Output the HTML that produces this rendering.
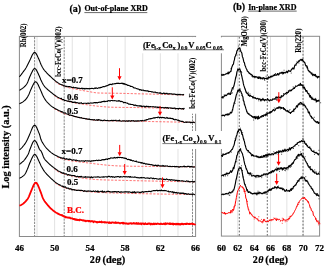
<!DOCTYPE html><html><head><meta charset="utf-8"><style>html,body{margin:0;padding:0;background:#fff;overflow:hidden;}svg{display:block;will-change:transform;}text{font-family:"Liberation Serif",serif;font-weight:bold;stroke:currentColor;stroke-width:0.22px;}</style></head><body><svg width="325" height="267" viewBox="0 0 325 267"><rect width="325" height="267" fill="#fff"/><text x="69.5" y="11.6" font-size="10">(a)</text><text x="84.4" y="11.0" font-size="8">Out-of-plane XRD</text><line x1="84.4" y1="12.6" x2="147.3" y2="12.6" stroke="#000" stroke-width="0.6"/><text x="232.9" y="9.8" font-size="10">(b)</text><text x="248.2" y="10.1" font-size="8">In-plane XRD</text><line x1="248.2" y1="11.1" x2="296.7" y2="11.1" stroke="#000" stroke-width="0.6"/><line x1="37.02" y1="36.4" x2="37.02" y2="236.5" stroke="#e2e2e2" stroke-width="1"/><line x1="54.64" y1="36.4" x2="54.64" y2="236.5" stroke="#e2e2e2" stroke-width="1"/><line x1="72.26" y1="36.4" x2="72.26" y2="236.5" stroke="#e2e2e2" stroke-width="1"/><line x1="89.88" y1="36.4" x2="89.88" y2="236.5" stroke="#e2e2e2" stroke-width="1"/><line x1="107.50" y1="36.4" x2="107.50" y2="236.5" stroke="#e2e2e2" stroke-width="1"/><line x1="125.12" y1="36.4" x2="125.12" y2="236.5" stroke="#e2e2e2" stroke-width="1"/><line x1="142.74" y1="36.4" x2="142.74" y2="236.5" stroke="#e2e2e2" stroke-width="1"/><line x1="160.36" y1="36.4" x2="160.36" y2="236.5" stroke="#e2e2e2" stroke-width="1"/><line x1="177.98" y1="36.4" x2="177.98" y2="236.5" stroke="#e2e2e2" stroke-width="1"/><line x1="34.6" y1="36.9" x2="34.6" y2="236.5" stroke="#7a7a7a" stroke-width="0.9" stroke-dasharray="2.3,1.0"/><line x1="64.2" y1="36.9" x2="64.2" y2="236.5" stroke="#7a7a7a" stroke-width="0.9" stroke-dasharray="2.3,1.0"/><line x1="192.5" y1="36.9" x2="192.5" y2="236.5" stroke="#7a7a7a" stroke-width="0.9" stroke-dasharray="2.3,1.0"/><line x1="237.77" y1="36.3" x2="237.77" y2="236.1" stroke="#e2e2e2" stroke-width="1"/><line x1="254.13" y1="36.3" x2="254.13" y2="236.1" stroke="#e2e2e2" stroke-width="1"/><line x1="270.50" y1="36.3" x2="270.50" y2="236.1" stroke="#e2e2e2" stroke-width="1"/><line x1="286.87" y1="36.3" x2="286.87" y2="236.1" stroke="#e2e2e2" stroke-width="1"/><line x1="303.23" y1="36.3" x2="303.23" y2="236.1" stroke="#e2e2e2" stroke-width="1"/><line x1="239.3" y1="36.8" x2="239.3" y2="236.1" stroke="#555" stroke-width="0.9" stroke-dasharray="1.8,1.6"/><line x1="267.3" y1="36.8" x2="267.3" y2="236.1" stroke="#555" stroke-width="0.9" stroke-dasharray="1.8,1.6"/><line x1="303.0" y1="36.8" x2="303.0" y2="236.1" stroke="#555" stroke-width="0.9" stroke-dasharray="1.8,1.6"/><rect x="19.4" y="36.4" width="176.20" height="200.10" fill="none" stroke="#8a8a8a" stroke-width="1"/><rect x="221.4" y="36.3" width="98.20" height="199.80" fill="none" stroke="#8a8a8a" stroke-width="1"/><path d="M55.00,81.40L55.50,81.84L56.00,82.25L56.50,82.64L57.00,83.00L57.50,83.34L58.00,83.65L58.50,83.94L59.00,84.20L59.50,84.43L60.00,84.63L60.50,84.82L61.00,85.00L61.50,85.19L62.00,85.38L62.50,85.56L63.00,85.75L63.50,85.94L64.00,86.12L64.50,86.31L65.00,86.48L65.50,86.66L66.00,86.83L66.50,87.00L67.00,87.16L67.50,87.32L68.00,87.47L68.50,87.61L69.00,87.75L69.50,87.88L70.00,88.00L70.50,88.12L71.00,88.23L71.50,88.34L72.00,88.45L72.50,88.55L73.00,88.66L73.50,88.75L74.00,88.85L74.50,88.95L75.00,89.04L75.50,89.14L76.00,89.23L76.50,89.32L77.00,89.42L77.50,89.51L78.00,89.60L78.50,89.70L79.00,89.80L79.50,89.89L80.00,89.99L80.50,90.09L81.00,90.19L81.50,90.28L82.00,90.38L82.50,90.47L83.00,90.57L83.50,90.66L84.00,90.76L84.50,90.85L85.00,90.94L85.50,91.03L86.00,91.12L86.50,91.20L87.00,91.29L87.50,91.37L88.00,91.45L88.50,91.53L89.00,91.62L89.50,91.71L90.00,91.80L90.50,91.89L91.00,91.98L91.50,92.07L92.00,92.15L92.50,92.24L93.00,92.33L93.50,92.41L94.00,92.49L94.50,92.57L95.00,92.64L95.50,92.71L96.00,92.77L96.50,92.82L97.00,92.87L97.50,92.92L98.00,92.95L98.50,92.98L99.00,93.00L99.50,93.01L100.00,93.03L100.50,93.04L101.00,93.05L101.50,93.06L102.00,93.07L102.50,93.08L103.00,93.09L103.50,93.10L104.00,93.11L104.50,93.12L105.00,93.13L105.50,93.13L106.00,93.14L106.50,93.15L107.00,93.15L107.50,93.16L108.00,93.17L108.50,93.17L109.00,93.18L109.50,93.18L110.00,93.19L110.50,93.19L111.00,93.20L111.50,93.20L112.00,93.21L112.50,93.21L113.00,93.22L113.50,93.22L114.00,93.23L114.50,93.23L115.00,93.24L115.50,93.25L116.00,93.25L116.50,93.26L117.00,93.27L117.50,93.27L118.00,93.28L118.50,93.29L119.00,93.30L119.50,93.31L120.00,93.32L120.50,93.33L121.00,93.34L121.50,93.35L122.00,93.36L122.50,93.37L123.00,93.38L123.50,93.40L124.00,93.41L124.50,93.42L125.00,93.43L125.50,93.44L126.00,93.46L126.50,93.47L127.00,93.48L127.50,93.50L128.00,93.51L128.50,93.52L129.00,93.54L129.50,93.55L130.00,93.56L130.50,93.58L131.00,93.59L131.50,93.60L132.00,93.62L132.50,93.63L133.00,93.64L133.50,93.66L134.00,93.67L134.50,93.68L135.00,93.70L135.50,93.71L136.00,93.72L136.50,93.74L137.00,93.75L137.50,93.76L138.00,93.78L138.50,93.79L139.00,93.80L139.50,93.81L140.00,93.82L140.50,93.84L141.00,93.85L141.50,93.86L142.00,93.87L142.50,93.88L143.00,93.90L143.50,93.91L144.00,93.92L144.50,93.93L145.00,93.94L145.50,93.95L146.00,93.96L146.50,93.98L147.00,93.99L147.50,94.00L148.00,94.01L148.50,94.02L149.00,94.03L149.50,94.05L150.00,94.06L150.50,94.07L151.00,94.08L151.50,94.09L152.00,94.10L152.50,94.12L153.00,94.13L153.50,94.14L154.00,94.15L154.50,94.16L155.00,94.17L155.50,94.19L156.00,94.20L156.50,94.21L157.00,94.22L157.50,94.24L158.00,94.25L158.50,94.26L159.00,94.27L159.50,94.29L160.00,94.30L160.50,94.31L161.00,94.33L161.50,94.34L162.00,94.35L162.50,94.37L163.00,94.38L163.50,94.39L164.00,94.41L164.50,94.42L165.00,94.43L165.50,94.45L166.00,94.46L166.50,94.48L167.00,94.49L167.50,94.50L168.00,94.52L168.50,94.53L169.00,94.55L169.50,94.56L170.00,94.57L170.50,94.59L171.00,94.60L171.50,94.62L172.00,94.63L172.50,94.65L173.00,94.66L173.50,94.68L174.00,94.69L174.50,94.71L175.00,94.72L175.50,94.74L176.00,94.75L176.50,94.77L177.00,94.78L177.50,94.80L178.00,94.81L178.50,94.83L179.00,94.84L179.50,94.86L180.00,94.87L180.50,94.89L181.00,94.90L181.50,94.92L182.00,94.94L182.50,94.95L183.00,94.97L183.50,94.98L184.00,95.00" fill="none" stroke="#ff2020" stroke-width="0.85" stroke-dasharray="2.2,1.5" opacity="0.85"/><path d="M54.00,95.30L54.50,95.72L55.00,96.12L55.50,96.52L56.00,96.90L56.50,97.26L57.00,97.60L57.50,97.92L58.00,98.21L58.50,98.47L59.00,98.70L59.50,98.91L60.00,99.10L60.50,99.27L61.00,99.44L61.50,99.60L62.00,99.74L62.50,99.89L63.00,100.02L63.50,100.15L64.00,100.28L64.50,100.41L65.00,100.54L65.50,100.67L66.00,100.80L66.50,100.94L67.00,101.07L67.50,101.21L68.00,101.34L68.50,101.47L69.00,101.61L69.50,101.74L70.00,101.87L70.50,102.00L71.00,102.12L71.50,102.24L72.00,102.36L72.50,102.48L73.00,102.59L73.50,102.70L74.00,102.80L74.50,102.90L75.00,103.00L75.50,103.09L76.00,103.18L76.50,103.26L77.00,103.34L77.50,103.42L78.00,103.50L78.50,103.58L79.00,103.65L79.50,103.72L80.00,103.79L80.50,103.86L81.00,103.93L81.50,104.00L82.00,104.07L82.50,104.13L83.00,104.20L83.50,104.27L84.00,104.34L84.50,104.41L85.00,104.48L85.50,104.56L86.00,104.63L86.50,104.70L87.00,104.77L87.50,104.84L88.00,104.92L88.50,104.99L89.00,105.06L89.50,105.13L90.00,105.20L90.50,105.27L91.00,105.34L91.50,105.41L92.00,105.48L92.50,105.54L93.00,105.61L93.50,105.68L94.00,105.74L94.50,105.80L95.00,105.86L95.50,105.92L96.00,105.98L96.50,106.04L97.00,106.10L97.50,106.15L98.00,106.20L98.50,106.25L99.00,106.30L99.50,106.35L100.00,106.39L100.50,106.44L101.00,106.49L101.50,106.54L102.00,106.58L102.50,106.63L103.00,106.68L103.50,106.72L104.00,106.77L104.50,106.81L105.00,106.85L105.50,106.89L106.00,106.93L106.50,106.97L107.00,107.00L107.50,107.04L108.00,107.07L108.50,107.10L109.00,107.12L109.50,107.15L110.00,107.17L110.50,107.19L111.00,107.20L111.50,107.21L112.00,107.23L112.50,107.24L113.00,107.25L113.50,107.26L114.00,107.27L114.50,107.28L115.00,107.29L115.50,107.30L116.00,107.31L116.50,107.32L117.00,107.33L117.50,107.33L118.00,107.34L118.50,107.35L119.00,107.36L119.50,107.36L120.00,107.37L120.50,107.38L121.00,107.38L121.50,107.39L122.00,107.40L122.50,107.40L123.00,107.41L123.50,107.41L124.00,107.42L124.50,107.42L125.00,107.43L125.50,107.43L126.00,107.44L126.50,107.44L127.00,107.45L127.50,107.45L128.00,107.46L128.50,107.46L129.00,107.47L129.50,107.47L130.00,107.48L130.50,107.49L131.00,107.49L131.50,107.50L132.00,107.50L132.50,107.51L133.00,107.51L133.50,107.52L134.00,107.52L134.50,107.53L135.00,107.54L135.50,107.54L136.00,107.55L136.50,107.56L137.00,107.57L137.50,107.57L138.00,107.58L138.50,107.59L139.00,107.60L139.50,107.61L140.00,107.62L140.50,107.63L141.00,107.64L141.50,107.65L142.00,107.66L142.50,107.67L143.00,107.68L143.50,107.69L144.00,107.70L144.50,107.71L145.00,107.72L145.50,107.73L146.00,107.74L146.50,107.75L147.00,107.76L147.50,107.77L148.00,107.78L148.50,107.79L149.00,107.80L149.50,107.81L150.00,107.83L150.50,107.84L151.00,107.85L151.50,107.86L152.00,107.87L152.50,107.89L153.00,107.90L153.50,107.91L154.00,107.92L154.50,107.94L155.00,107.95L155.50,107.96L156.00,107.97L156.50,107.99L157.00,108.00L157.50,108.01L158.00,108.03L158.50,108.04L159.00,108.06L159.50,108.07L160.00,108.08L160.50,108.10L161.00,108.11L161.50,108.13L162.00,108.14L162.50,108.16L163.00,108.17L163.50,108.18L164.00,108.20L164.50,108.22L165.00,108.23L165.50,108.25L166.00,108.26L166.50,108.28L167.00,108.30L167.50,108.31L168.00,108.33L168.50,108.35L169.00,108.37L169.50,108.38L170.00,108.40L170.50,108.42L171.00,108.44L171.50,108.46L172.00,108.48L172.50,108.50L173.00,108.52L173.50,108.54L174.00,108.56L174.50,108.58L175.00,108.60L175.50,108.62L176.00,108.64L176.50,108.66L177.00,108.68L177.50,108.71L178.00,108.73L178.50,108.75L179.00,108.77L179.50,108.79L180.00,108.82L180.50,108.84L181.00,108.86L181.50,108.88L182.00,108.91L182.50,108.93L183.00,108.95L183.50,108.98L184.00,109.00" fill="none" stroke="#ff2020" stroke-width="0.85" stroke-dasharray="2.2,1.5" opacity="0.85"/><path d="M54.00,108.60L54.50,108.89L55.00,109.18L55.50,109.46L56.00,109.74L56.50,110.02L57.00,110.28L57.50,110.55L58.00,110.80L58.50,111.06L59.00,111.30L59.50,111.54L60.00,111.78L60.50,112.02L61.00,112.26L61.50,112.49L62.00,112.72L62.50,112.94L63.00,113.15L63.50,113.36L64.00,113.55L64.50,113.73L65.00,113.90L65.50,114.06L66.00,114.20L66.50,114.34L67.00,114.47L67.50,114.59L68.00,114.72L68.50,114.84L69.00,114.96L69.50,115.08L70.00,115.20L70.50,115.33L71.00,115.45L71.50,115.58L72.00,115.71L72.50,115.85L73.00,115.98L73.50,116.11L74.00,116.24L74.50,116.38L75.00,116.51L75.50,116.64L76.00,116.77L76.50,116.90L77.00,117.03L77.50,117.15L78.00,117.28L78.50,117.40L79.00,117.52L79.50,117.64L80.00,117.76L80.50,117.87L81.00,117.98L81.50,118.08L82.00,118.18L82.50,118.28L83.00,118.38L83.50,118.47L84.00,118.55L84.50,118.64L85.00,118.72L85.50,118.81L86.00,118.89L86.50,118.98L87.00,119.06L87.50,119.15L88.00,119.23L88.50,119.31L89.00,119.39L89.50,119.47L90.00,119.55L90.50,119.63L91.00,119.70L91.50,119.77L92.00,119.84L92.50,119.91L93.00,119.98L93.50,120.04L94.00,120.10L94.50,120.15L95.00,120.21L95.50,120.26L96.00,120.30L96.50,120.35L97.00,120.39L97.50,120.42L98.00,120.45L98.50,120.48L99.00,120.50L99.50,120.52L100.00,120.54L100.50,120.56L101.00,120.57L101.50,120.59L102.00,120.61L102.50,120.63L103.00,120.64L103.50,120.66L104.00,120.67L104.50,120.69L105.00,120.70L105.50,120.72L106.00,120.73L106.50,120.74L107.00,120.76L107.50,120.77L108.00,120.78L108.50,120.79L109.00,120.81L109.50,120.82L110.00,120.83L110.50,120.84L111.00,120.85L111.50,120.86L112.00,120.87L112.50,120.88L113.00,120.89L113.50,120.90L114.00,120.91L114.50,120.92L115.00,120.93L115.50,120.94L116.00,120.95L116.50,120.96L117.00,120.96L117.50,120.97L118.00,120.98L118.50,120.99L119.00,121.00L119.50,121.00L120.00,121.01L120.50,121.02L121.00,121.03L121.50,121.03L122.00,121.04L122.50,121.05L123.00,121.05L123.50,121.06L124.00,121.07L124.50,121.07L125.00,121.08L125.50,121.09L126.00,121.10L126.50,121.10L127.00,121.11L127.50,121.12L128.00,121.12L128.50,121.13L129.00,121.14L129.50,121.14L130.00,121.15L130.50,121.16L131.00,121.17L131.50,121.17L132.00,121.18L132.50,121.19L133.00,121.20L133.50,121.20L134.00,121.21L134.50,121.22L135.00,121.23L135.50,121.24L136.00,121.24L136.50,121.25L137.00,121.26L137.50,121.27L138.00,121.28L138.50,121.29L139.00,121.30L139.50,121.31L140.00,121.32L140.50,121.33L141.00,121.34L141.50,121.35L142.00,121.36L142.50,121.37L143.00,121.38L143.50,121.39L144.00,121.40L144.50,121.41L145.00,121.42L145.50,121.43L146.00,121.44L146.50,121.45L147.00,121.46L147.50,121.47L148.00,121.48L148.50,121.49L149.00,121.50L149.50,121.51L150.00,121.52L150.50,121.53L151.00,121.54L151.50,121.55L152.00,121.56L152.50,121.57L153.00,121.58L153.50,121.59L154.00,121.60L154.50,121.61L155.00,121.62L155.50,121.63L156.00,121.64L156.50,121.65L157.00,121.66L157.50,121.67L158.00,121.68L158.50,121.69L159.00,121.70L159.50,121.71L160.00,121.72L160.50,121.72L161.00,121.73L161.50,121.74L162.00,121.75L162.50,121.76L163.00,121.77L163.50,121.78L164.00,121.79L164.50,121.80L165.00,121.81L165.50,121.82L166.00,121.83L166.50,121.84L167.00,121.85L167.50,121.86L168.00,121.87L168.50,121.88L169.00,121.89L169.50,121.90L170.00,121.91L170.50,121.92L171.00,121.93L171.50,121.94L172.00,121.95L172.50,121.96L173.00,121.97L173.50,121.98L174.00,121.99L174.50,122.00L175.00,122.01L175.50,122.02L176.00,122.03L176.50,122.04L177.00,122.05L177.50,122.06L178.00,122.07L178.50,122.08L179.00,122.09L179.50,122.10L180.00,122.11L180.50,122.12L181.00,122.13L181.50,122.14L182.00,122.15L182.50,122.16L183.00,122.17L183.50,122.18L184.00,122.19L184.50,122.20L185.00,122.21L185.50,122.22L186.00,122.22L186.50,122.23L187.00,122.24L187.50,122.25L188.00,122.26L188.50,122.27L189.00,122.28L189.50,122.29L190.00,122.30L190.50,122.31L191.00,122.32L191.50,122.33L192.00,122.34L192.50,122.35L193.00,122.36L193.50,122.37L194.00,122.38L194.50,122.39L195.00,122.40" fill="none" stroke="#ff2020" stroke-width="0.85" stroke-dasharray="2.2,1.5" opacity="0.85"/><path d="M57.00,156.90L57.50,157.12L58.00,157.33L58.50,157.54L59.00,157.73L59.50,157.92L60.00,158.10L60.50,158.27L61.00,158.44L61.50,158.60L62.00,158.75L62.50,158.90L63.00,159.04L63.50,159.17L64.00,159.30L64.50,159.42L65.00,159.54L65.50,159.65L66.00,159.76L66.50,159.87L67.00,159.98L67.50,160.09L68.00,160.19L68.50,160.29L69.00,160.39L69.50,160.49L70.00,160.58L70.50,160.67L71.00,160.76L71.50,160.85L72.00,160.93L72.50,161.02L73.00,161.10L73.50,161.18L74.00,161.25L74.50,161.33L75.00,161.40L75.50,161.47L76.00,161.54L76.50,161.60L77.00,161.66L77.50,161.72L78.00,161.78L78.50,161.83L79.00,161.89L79.50,161.94L80.00,161.99L80.50,162.05L81.00,162.10L81.50,162.15L82.00,162.21L82.50,162.26L83.00,162.32L83.50,162.38L84.00,162.44L84.50,162.50L85.00,162.56L85.50,162.62L86.00,162.68L86.50,162.74L87.00,162.81L87.50,162.87L88.00,162.93L88.50,163.00L89.00,163.06L89.50,163.13L90.00,163.19L90.50,163.26L91.00,163.32L91.50,163.39L92.00,163.45L92.50,163.51L93.00,163.58L93.50,163.64L94.00,163.70L94.50,163.77L95.00,163.83L95.50,163.89L96.00,163.95L96.50,164.01L97.00,164.07L97.50,164.13L98.00,164.19L98.50,164.24L99.00,164.30L99.50,164.36L100.00,164.41L100.50,164.47L101.00,164.52L101.50,164.58L102.00,164.64L102.50,164.69L103.00,164.75L103.50,164.81L104.00,164.86L104.50,164.92L105.00,164.97L105.50,165.02L106.00,165.07L106.50,165.13L107.00,165.17L107.50,165.22L108.00,165.27L108.50,165.31L109.00,165.35L109.50,165.39L110.00,165.43L110.50,165.47L111.00,165.50L111.50,165.53L112.00,165.56L112.50,165.59L113.00,165.62L113.50,165.65L114.00,165.68L114.50,165.71L115.00,165.74L115.50,165.77L116.00,165.79L116.50,165.82L117.00,165.85L117.50,165.87L118.00,165.89L118.50,165.92L119.00,165.94L119.50,165.96L120.00,165.98L120.50,166.00L121.00,166.02L121.50,166.03L122.00,166.05L122.50,166.06L123.00,166.08L123.50,166.09L124.00,166.10L124.50,166.11L125.00,166.12L125.50,166.13L126.00,166.14L126.50,166.15L127.00,166.16L127.50,166.16L128.00,166.17L128.50,166.18L129.00,166.19L129.50,166.20L130.00,166.20L130.50,166.21L131.00,166.22L131.50,166.23L132.00,166.23L132.50,166.24L133.00,166.25L133.50,166.25L134.00,166.26L134.50,166.27L135.00,166.27L135.50,166.28L136.00,166.28L136.50,166.29L137.00,166.29L137.50,166.30L138.00,166.31L138.50,166.31L139.00,166.32L139.50,166.32L140.00,166.33L140.50,166.33L141.00,166.34L141.50,166.34L142.00,166.35L142.50,166.35L143.00,166.35L143.50,166.36L144.00,166.36L144.50,166.37L145.00,166.37L145.50,166.38L146.00,166.38L146.50,166.39L147.00,166.39L147.50,166.39L148.00,166.40L148.50,166.40L149.00,166.41L149.50,166.41L150.00,166.41L150.50,166.42L151.00,166.42L151.50,166.43L152.00,166.43L152.50,166.43L153.00,166.44L153.50,166.44L154.00,166.45L154.50,166.45L155.00,166.45L155.50,166.46L156.00,166.46L156.50,166.47L157.00,166.47L157.50,166.48L158.00,166.48L158.50,166.49L159.00,166.49L159.50,166.50L160.00,166.50L160.50,166.50L161.00,166.51L161.50,166.51L162.00,166.52L162.50,166.52L163.00,166.53L163.50,166.53L164.00,166.54L164.50,166.54L165.00,166.55L165.50,166.55L166.00,166.56L166.50,166.56L167.00,166.57L167.50,166.57L168.00,166.58L168.50,166.58L169.00,166.58L169.50,166.59L170.00,166.59L170.50,166.60L171.00,166.60L171.50,166.61L172.00,166.61L172.50,166.62L173.00,166.62L173.50,166.63L174.00,166.63L174.50,166.63L175.00,166.64L175.50,166.64L176.00,166.65L176.50,166.65L177.00,166.66L177.50,166.66L178.00,166.66L178.50,166.67L179.00,166.67L179.50,166.68L180.00,166.68L180.50,166.69L181.00,166.69L181.50,166.69L182.00,166.70L182.50,166.70L183.00,166.71L183.50,166.71L184.00,166.71L184.50,166.72L185.00,166.72L185.50,166.73L186.00,166.73L186.50,166.73L187.00,166.74L187.50,166.74L188.00,166.75L188.50,166.75L189.00,166.75L189.50,166.76L190.00,166.76L190.50,166.77L191.00,166.77L191.50,166.77L192.00,166.78L192.50,166.78L193.00,166.79L193.50,166.79L194.00,166.79L194.50,166.80L195.00,166.80" fill="none" stroke="#ff2020" stroke-width="0.85" stroke-dasharray="2.2,1.5" opacity="0.85"/><path d="M54.00,168.50L54.50,168.93L55.00,169.36L55.50,169.77L56.00,170.17L56.50,170.55L57.00,170.91L57.50,171.25L58.00,171.56L58.50,171.85L59.00,172.10L59.50,172.33L60.00,172.55L60.50,172.75L61.00,172.95L61.50,173.13L62.00,173.31L62.50,173.48L63.00,173.64L63.50,173.79L64.00,173.94L64.50,174.08L65.00,174.22L65.50,174.36L66.00,174.50L66.50,174.64L67.00,174.77L67.50,174.91L68.00,175.04L68.50,175.17L69.00,175.30L69.50,175.43L70.00,175.56L70.50,175.69L71.00,175.81L71.50,175.94L72.00,176.06L72.50,176.18L73.00,176.30L73.50,176.42L74.00,176.53L74.50,176.64L75.00,176.76L75.50,176.87L76.00,176.97L76.50,177.08L77.00,177.18L77.50,177.28L78.00,177.38L78.50,177.47L79.00,177.57L79.50,177.66L80.00,177.74L80.50,177.83L81.00,177.91L81.50,177.99L82.00,178.07L82.50,178.14L83.00,178.21L83.50,178.27L84.00,178.34L84.50,178.40L85.00,178.46L85.50,178.52L86.00,178.58L86.50,178.64L87.00,178.70L87.50,178.76L88.00,178.81L88.50,178.87L89.00,178.92L89.50,178.97L90.00,179.03L90.50,179.08L91.00,179.12L91.50,179.17L92.00,179.22L92.50,179.26L93.00,179.31L93.50,179.35L94.00,179.39L94.50,179.43L95.00,179.46L95.50,179.50L96.00,179.53L96.50,179.57L97.00,179.60L97.50,179.62L98.00,179.65L98.50,179.68L99.00,179.70L99.50,179.72L100.00,179.74L100.50,179.76L101.00,179.78L101.50,179.80L102.00,179.82L102.50,179.84L103.00,179.86L103.50,179.88L104.00,179.90L104.50,179.91L105.00,179.93L105.50,179.95L106.00,179.96L106.50,179.98L107.00,179.99L107.50,180.01L108.00,180.02L108.50,180.03L109.00,180.05L109.50,180.06L110.00,180.07L110.50,180.09L111.00,180.10L111.50,180.11L112.00,180.12L112.50,180.14L113.00,180.15L113.50,180.16L114.00,180.17L114.50,180.18L115.00,180.19L115.50,180.21L116.00,180.22L116.50,180.23L117.00,180.24L117.50,180.25L118.00,180.26L118.50,180.27L119.00,180.28L119.50,180.29L120.00,180.31L120.50,180.32L121.00,180.33L121.50,180.34L122.00,180.35L122.50,180.36L123.00,180.38L123.50,180.39L124.00,180.40L124.50,180.41L125.00,180.42L125.50,180.44L126.00,180.45L126.50,180.46L127.00,180.47L127.50,180.49L128.00,180.50L128.50,180.51L129.00,180.52L129.50,180.53L130.00,180.55L130.50,180.56L131.00,180.57L131.50,180.58L132.00,180.59L132.50,180.60L133.00,180.62L133.50,180.63L134.00,180.64L134.50,180.65L135.00,180.66L135.50,180.67L136.00,180.68L136.50,180.70L137.00,180.71L137.50,180.72L138.00,180.73L138.50,180.74L139.00,180.75L139.50,180.76L140.00,180.77L140.50,180.78L141.00,180.80L141.50,180.81L142.00,180.82L142.50,180.83L143.00,180.84L143.50,180.85L144.00,180.86L144.50,180.87L145.00,180.88L145.50,180.89L146.00,180.90L146.50,180.91L147.00,180.93L147.50,180.94L148.00,180.95L148.50,180.96L149.00,180.97L149.50,180.98L150.00,180.99L150.50,181.00L151.00,181.01L151.50,181.02L152.00,181.03L152.50,181.04L153.00,181.05L153.50,181.06L154.00,181.07L154.50,181.08L155.00,181.09L155.50,181.11L156.00,181.12L156.50,181.13L157.00,181.14L157.50,181.15L158.00,181.16L158.50,181.17L159.00,181.18L159.50,181.19L160.00,181.20L160.50,181.21L161.00,181.22L161.50,181.23L162.00,181.24L162.50,181.25L163.00,181.26L163.50,181.27L164.00,181.28L164.50,181.29L165.00,181.30L165.50,181.31L166.00,181.33L166.50,181.34L167.00,181.35L167.50,181.36L168.00,181.37L168.50,181.38L169.00,181.39L169.50,181.40L170.00,181.41L170.50,181.42L171.00,181.43L171.50,181.44L172.00,181.45L172.50,181.46L173.00,181.47L173.50,181.48L174.00,181.49L174.50,181.50L175.00,181.51L175.50,181.52L176.00,181.53L176.50,181.54L177.00,181.55L177.50,181.56L178.00,181.57L178.50,181.58L179.00,181.59L179.50,181.60L180.00,181.61L180.50,181.62L181.00,181.63L181.50,181.64L182.00,181.65L182.50,181.66L183.00,181.67L183.50,181.68L184.00,181.69L184.50,181.70L185.00,181.71L185.50,181.72L186.00,181.73L186.50,181.74L187.00,181.75L187.50,181.76L188.00,181.77L188.50,181.78L189.00,181.79L189.50,181.80L190.00,181.80L190.50,181.81L191.00,181.82L191.50,181.83L192.00,181.84L192.50,181.85L193.00,181.86L193.50,181.87L194.00,181.88L194.50,181.89L195.00,181.90" fill="none" stroke="#ff2020" stroke-width="0.85" stroke-dasharray="2.2,1.5" opacity="0.85"/><path d="M55.00,182.80L55.50,183.15L56.00,183.49L56.50,183.82L57.00,184.14L57.50,184.45L58.00,184.75L58.50,185.03L59.00,185.30L59.50,185.56L60.00,185.81L60.50,186.06L61.00,186.31L61.50,186.54L62.00,186.77L62.50,186.99L63.00,187.20L63.50,187.40L64.00,187.58L64.50,187.75L65.00,187.90L65.50,188.04L66.00,188.17L66.50,188.29L67.00,188.40L67.50,188.51L68.00,188.61L68.50,188.71L69.00,188.81L69.50,188.91L70.00,189.00L70.50,189.10L71.00,189.19L71.50,189.28L72.00,189.38L72.50,189.47L73.00,189.56L73.50,189.66L74.00,189.75L74.50,189.84L75.00,189.93L75.50,190.01L76.00,190.10L76.50,190.19L77.00,190.27L77.50,190.35L78.00,190.43L78.50,190.51L79.00,190.59L79.50,190.66L80.00,190.73L80.50,190.81L81.00,190.87L81.50,190.94L82.00,191.00L82.50,191.06L83.00,191.12L83.50,191.18L84.00,191.23L84.50,191.28L85.00,191.34L85.50,191.39L86.00,191.44L86.50,191.48L87.00,191.53L87.50,191.58L88.00,191.63L88.50,191.67L89.00,191.72L89.50,191.76L90.00,191.80L90.50,191.84L91.00,191.89L91.50,191.93L92.00,191.96L92.50,192.00L93.00,192.04L93.50,192.08L94.00,192.11L94.50,192.14L95.00,192.18L95.50,192.21L96.00,192.24L96.50,192.27L97.00,192.30L97.50,192.32L98.00,192.35L98.50,192.38L99.00,192.40L99.50,192.42L100.00,192.45L100.50,192.47L101.00,192.49L101.50,192.51L102.00,192.53L102.50,192.56L103.00,192.58L103.50,192.60L104.00,192.62L104.50,192.64L105.00,192.66L105.50,192.68L106.00,192.70L106.50,192.72L107.00,192.74L107.50,192.75L108.00,192.77L108.50,192.79L109.00,192.81L109.50,192.83L110.00,192.84L110.50,192.86L111.00,192.88L111.50,192.90L112.00,192.91L112.50,192.93L113.00,192.95L113.50,192.96L114.00,192.98L114.50,192.99L115.00,193.01L115.50,193.02L116.00,193.04L116.50,193.05L117.00,193.07L117.50,193.08L118.00,193.10L118.50,193.11L119.00,193.13L119.50,193.14L120.00,193.15L120.50,193.17L121.00,193.18L121.50,193.19L122.00,193.21L122.50,193.22L123.00,193.23L123.50,193.25L124.00,193.26L124.50,193.27L125.00,193.28L125.50,193.30L126.00,193.31L126.50,193.32L127.00,193.33L127.50,193.34L128.00,193.36L128.50,193.37L129.00,193.38L129.50,193.39L130.00,193.40L130.50,193.41L131.00,193.43L131.50,193.44L132.00,193.45L132.50,193.46L133.00,193.47L133.50,193.48L134.00,193.49L134.50,193.50L135.00,193.51L135.50,193.52L136.00,193.54L136.50,193.55L137.00,193.56L137.50,193.57L138.00,193.58L138.50,193.59L139.00,193.60L139.50,193.61L140.00,193.62L140.50,193.63L141.00,193.64L141.50,193.65L142.00,193.66L142.50,193.67L143.00,193.68L143.50,193.69L144.00,193.71L144.50,193.72L145.00,193.73L145.50,193.74L146.00,193.75L146.50,193.76L147.00,193.77L147.50,193.78L148.00,193.79L148.50,193.80L149.00,193.81L149.50,193.82L150.00,193.83L150.50,193.84L151.00,193.85L151.50,193.86L152.00,193.87L152.50,193.88L153.00,193.89L153.50,193.90L154.00,193.91L154.50,193.92L155.00,193.93L155.50,193.94L156.00,193.95L156.50,193.95L157.00,193.96L157.50,193.97L158.00,193.98L158.50,193.99L159.00,194.00L159.50,194.01L160.00,194.02L160.50,194.03L161.00,194.04L161.50,194.05L162.00,194.06L162.50,194.07L163.00,194.07L163.50,194.08L164.00,194.09L164.50,194.10L165.00,194.11L165.50,194.12L166.00,194.13L166.50,194.13L167.00,194.14L167.50,194.15L168.00,194.16L168.50,194.17L169.00,194.18L169.50,194.18L170.00,194.19L170.50,194.20L171.00,194.21L171.50,194.22L172.00,194.22L172.50,194.23L173.00,194.24L173.50,194.25L174.00,194.25L174.50,194.26L175.00,194.27L175.50,194.28L176.00,194.28L176.50,194.29L177.00,194.30L177.50,194.31L178.00,194.31L178.50,194.32L179.00,194.33L179.50,194.33L180.00,194.34L180.50,194.35L181.00,194.35L181.50,194.36L182.00,194.37L182.50,194.37L183.00,194.38L183.50,194.38L184.00,194.39L184.50,194.40L185.00,194.40L185.50,194.41L186.00,194.41L186.50,194.42L187.00,194.42L187.50,194.43L188.00,194.44L188.50,194.44L189.00,194.45L189.50,194.45L190.00,194.46L190.50,194.46L191.00,194.47L191.50,194.47L192.00,194.47L192.50,194.48L193.00,194.48L193.50,194.49L194.00,194.49L194.50,194.50L195.00,194.50" fill="none" stroke="#ff2020" stroke-width="0.85" stroke-dasharray="2.2,1.5" opacity="0.85"/><path d="M19.40,76.90L19.90,76.26L20.40,75.62L20.90,74.97L21.40,74.32L21.90,73.65L22.40,72.96L22.90,72.28L23.40,71.60L23.90,70.94L24.40,70.27L24.90,69.57L25.40,68.82L25.90,68.03L26.40,67.18L26.90,66.28L27.40,65.34L27.90,64.36L28.40,63.36L28.90,62.34L29.40,61.29L29.90,60.22L30.40,59.11L30.90,58.00L31.40,56.90L31.90,55.84L32.40,54.85L32.90,53.98L33.40,53.26L33.90,52.76L34.40,52.53L34.90,52.56L35.40,52.85L35.90,53.39L36.40,54.14L36.90,55.04L37.40,56.05L37.90,57.12L38.40,58.22L38.90,59.34L39.40,60.42L39.90,61.65L40.40,63.01L40.90,64.16L41.40,65.23L41.90,66.23L42.40,67.17L42.90,68.04L43.40,68.85L43.90,69.59L44.40,70.23L44.90,70.83L45.40,71.40L45.90,71.96L46.40,72.50L46.90,73.02L47.40,73.54L47.90,74.04L48.40,74.53L48.90,75.02L49.40,75.51L49.90,75.99L50.40,76.47L50.90,76.94L51.40,77.41L51.90,77.87L52.40,78.33L52.90,78.79L53.40,79.23L53.90,79.67L54.40,80.10L54.90,80.52L55.40,80.93L55.90,81.32L56.40,81.70L56.90,82.06L57.40,82.41L57.90,82.75L58.40,83.07L58.90,83.37L59.40,83.67L59.90,83.95L60.40,84.21L60.90,84.54L61.40,84.63L61.90,84.70L62.40,85.03L62.90,85.09L63.40,85.54L63.90,86.03L64.40,85.73L64.90,85.85L65.40,86.27L65.90,86.37L66.40,86.42L66.90,86.28L67.40,86.62L67.90,86.90L68.40,86.49L68.90,86.81L69.40,86.54L69.90,86.79L70.40,86.74L70.90,87.23L71.40,87.05L71.90,87.52L72.40,87.57L72.90,87.56L73.40,87.05L73.90,87.62L74.40,87.81L74.90,87.91L75.40,87.56L75.90,87.89L76.40,87.82L76.90,87.91L77.40,88.43L77.90,88.01L78.40,88.25L78.90,88.51L79.40,88.19L79.90,88.34L80.40,88.43L80.90,88.44L81.40,88.15L81.90,88.50L82.40,88.84L82.90,88.13L83.40,88.75L83.90,88.58L84.40,88.40L84.90,89.07L85.40,88.77L85.90,88.28L86.40,88.61L86.90,88.73L87.40,88.54L87.90,88.76L88.40,88.57L88.90,88.75L89.40,88.94L89.90,88.40L90.40,88.61L90.90,88.44L91.40,88.57L91.90,88.23L92.40,88.36L92.90,88.43L93.40,88.68L93.90,88.72L94.40,88.07L94.90,88.17L95.40,88.49L95.90,87.78L96.40,88.12L96.90,88.15L97.40,88.43L97.90,88.22L98.40,87.89L98.90,87.79L99.40,87.73L99.90,88.07L100.40,87.47L100.90,87.38L101.40,87.42L101.90,87.17L102.40,87.01L102.90,86.63L103.40,86.76L103.90,86.50L104.40,86.74L104.90,86.46L105.40,86.13L105.90,86.14L106.40,85.73L106.90,85.92L107.40,85.50L107.90,85.49L108.40,84.87L108.90,85.13L109.40,84.47L109.90,84.24L110.40,84.54L110.90,84.26L111.40,84.39L111.90,84.79L112.40,83.91L112.90,83.86L113.40,83.96L113.90,83.94L114.40,83.69L114.90,83.61L115.40,83.77L115.90,83.66L116.40,83.22L116.90,83.42L117.40,83.41L117.90,83.11L118.40,83.42L118.90,83.14L119.40,83.60L119.90,83.43L120.40,83.43L120.90,83.30L121.40,83.47L121.90,83.06L122.40,83.35L122.90,83.81L123.40,83.29L123.90,84.14L124.40,83.62L124.90,84.37L125.40,84.11L125.90,84.67L126.40,84.67L126.90,84.42L127.40,85.30L127.90,85.53L128.40,85.33L128.90,85.47L129.40,85.70L129.90,85.69L130.40,86.41L130.90,86.20L131.40,86.52L131.90,86.54L132.40,86.79L132.90,86.83L133.40,87.67L133.90,87.53L134.40,88.01L134.90,87.98L135.40,88.00L135.90,88.29L136.40,88.43L136.90,88.76L137.40,88.84L137.90,89.03L138.40,88.93L138.90,89.23L139.40,89.99L139.90,89.55L140.40,89.58L140.90,90.05L141.40,90.44L141.90,89.83L142.40,90.25L142.90,90.24L143.40,90.05L143.90,90.77L144.40,90.66L144.90,90.77L145.40,90.65L145.90,91.03L146.40,90.86L146.90,91.04L147.40,90.87L147.90,90.92L148.40,91.63L148.90,91.24L149.40,91.51L149.90,91.50L150.40,91.47L150.90,91.53L151.40,91.89L151.90,91.73L152.40,91.84L152.90,91.96L153.40,92.32L153.90,92.27L154.40,92.28L154.90,92.11L155.40,91.99L155.90,92.64L156.40,92.72L156.90,92.52L157.40,92.76L157.90,92.89L158.40,92.97L158.90,93.06L159.40,92.79L159.90,93.34L160.40,92.72L160.90,93.31L161.40,93.27L161.90,93.43L162.40,93.74L162.90,93.69L163.40,93.09L163.90,93.01L164.40,93.69L164.90,93.28L165.40,93.58L165.90,93.84L166.40,93.27L166.90,93.20L167.40,93.84L167.90,93.83L168.40,93.80L168.90,93.91L169.40,93.73L169.90,93.60L170.40,93.98L170.90,93.81L171.40,93.68L171.90,94.26L172.40,94.15L172.90,94.30L173.40,93.99L173.90,94.10L174.40,94.05L174.90,94.11L175.40,94.42L175.90,94.20L176.40,94.52L176.90,94.54L177.40,94.99L177.90,94.17L178.40,94.76L178.90,94.55L179.40,94.59L179.90,94.26L180.40,94.53L180.90,94.85L181.40,94.67L181.90,94.73L182.40,94.66L182.90,95.04L183.40,94.77L183.90,94.24" fill="none" stroke="#000" stroke-width="1.1" stroke-linejoin="round"/><path d="M19.40,90.25L19.90,89.98L20.40,89.68L20.90,89.37L21.40,89.06L21.90,88.74L22.40,88.39L22.90,88.02L23.40,87.62L23.90,87.20L24.40,86.74L24.90,86.25L25.40,85.73L25.90,85.18L26.40,84.50L26.90,83.72L27.40,82.81L27.90,81.67L28.40,80.37L28.90,79.01L29.40,77.70L29.90,76.53L30.40,75.44L30.90,74.32L31.40,73.22L31.90,72.15L32.40,71.14L32.90,70.24L33.40,69.49L33.90,68.95L34.40,68.66L34.90,68.63L35.40,68.86L35.90,69.36L36.40,70.08L36.90,70.95L37.40,71.94L37.90,73.00L38.40,74.10L38.90,75.21L39.40,76.31L39.90,77.44L40.40,78.69L40.90,79.95L41.40,81.10L41.90,82.08L42.40,83.02L42.90,83.90L43.40,84.74L43.90,85.53L44.40,86.21L44.90,86.82L45.40,87.37L45.90,87.88L46.40,88.37L46.90,88.83L47.40,89.28L47.90,89.72L48.40,90.16L48.90,90.58L49.40,91.00L49.90,91.42L50.40,91.83L50.90,92.24L51.40,92.64L51.90,93.03L52.40,93.42L52.90,93.81L53.40,94.20L53.90,94.58L54.40,94.95L54.90,95.31L55.40,95.67L55.90,96.02L56.40,96.36L56.90,96.68L57.40,97.00L57.90,97.30L58.40,97.58L58.90,97.86L59.40,98.12L59.90,98.37L60.40,98.43L60.90,98.34L61.40,98.23L61.90,99.12L62.40,99.78L62.90,99.64L63.40,99.51L63.90,99.74L64.40,100.41L64.90,100.32L65.40,100.44L65.90,100.55L66.40,100.71L66.90,101.03L67.40,101.09L67.90,101.12L68.40,100.92L68.90,101.42L69.40,101.23L69.90,101.78L70.40,101.29L70.90,101.68L71.40,101.81L71.90,101.58L72.40,102.43L72.90,102.46L73.40,102.07L73.90,102.47L74.40,102.46L74.90,101.79L75.40,102.58L75.90,102.58L76.40,102.69L76.90,102.47L77.40,102.73L77.90,102.81L78.40,103.21L78.90,103.05L79.40,103.01L79.90,103.44L80.40,102.95L80.90,103.03L81.40,102.70L81.90,103.58L82.40,103.45L82.90,103.45L83.40,103.41L83.90,103.28L84.40,103.31L84.90,103.20L85.40,103.21L85.90,103.27L86.40,103.63L86.90,103.38L87.40,103.22L87.90,103.08L88.40,103.05L88.90,103.60L89.40,103.31L89.90,103.18L90.40,103.05L90.90,102.84L91.40,103.08L91.90,103.29L92.40,102.94L92.90,102.95L93.40,102.92L93.90,102.96L94.40,102.49L94.90,102.79L95.40,102.58L95.90,102.97L96.40,102.50L96.90,102.78L97.40,102.95L97.90,102.43L98.40,102.28L98.90,102.41L99.40,102.29L99.90,101.96L100.40,102.24L100.90,102.55L101.40,101.89L101.90,101.82L102.40,101.52L102.90,101.77L103.40,101.29L103.90,101.24L104.40,101.76L104.90,101.13L105.40,101.55L105.90,101.58L106.40,101.19L106.90,101.20L107.40,101.48L107.90,100.89L108.40,100.74L108.90,100.50L109.40,100.80L109.90,101.13L110.40,100.97L110.90,100.47L111.40,100.47L111.90,100.55L112.40,100.74L112.90,100.62L113.40,100.73L113.90,100.76L114.40,100.62L114.90,100.71L115.40,100.79L115.90,100.75L116.40,100.93L116.90,101.31L117.40,101.03L117.90,100.95L118.40,100.58L118.90,101.17L119.40,100.67L119.90,100.89L120.40,101.56L120.90,101.63L121.40,101.54L121.90,101.28L122.40,101.75L122.90,101.82L123.40,102.30L123.90,102.85L124.40,102.50L124.90,102.41L125.40,102.47L125.90,102.91L126.40,103.04L126.90,102.95L127.40,103.43L127.90,103.26L128.40,103.98L128.90,104.12L129.40,104.27L129.90,104.02L130.40,104.40L130.90,104.37L131.40,104.43L131.90,104.57L132.40,104.45L132.90,104.53L133.40,105.20L133.90,105.06L134.40,105.26L134.90,105.56L135.40,104.97L135.90,105.30L136.40,105.62L136.90,105.76L137.40,105.64L137.90,106.06L138.40,105.92L138.90,105.62L139.40,105.75L139.90,106.24L140.40,106.20L140.90,105.65L141.40,106.51L141.90,106.36L142.40,106.58L142.90,106.18L143.40,106.24L143.90,106.06L144.40,107.01L144.90,106.36L145.40,106.83L145.90,106.30L146.40,106.53L146.90,106.10L147.40,106.46L147.90,106.83L148.40,106.30L148.90,106.91L149.40,106.76L149.90,106.44L150.40,106.61L150.90,106.66L151.40,106.79L151.90,106.71L152.40,106.67L152.90,106.84L153.40,106.69L153.90,106.66L154.40,107.01L154.90,107.28L155.40,106.71L155.90,107.13L156.40,107.01L156.90,106.97L157.40,107.46L157.90,107.16L158.40,107.70L158.90,107.17L159.40,107.50L159.90,107.38L160.40,107.29L160.90,107.66L161.40,107.51L161.90,107.73L162.40,107.61L162.90,107.38L163.40,107.67L163.90,107.74L164.40,108.00L164.90,107.57L165.40,107.82L165.90,107.43L166.40,108.06L166.90,107.66L167.40,107.51L167.90,107.98L168.40,108.31L168.90,107.68L169.40,107.82L169.90,107.94L170.40,107.88L170.90,108.29L171.40,108.02L171.90,108.08L172.40,108.43L172.90,108.13L173.40,108.46L173.90,108.14L174.40,108.11L174.90,107.98L175.40,108.94L175.90,108.42L176.40,108.59L176.90,108.56L177.40,108.63L177.90,108.64L178.40,109.13L178.90,108.42L179.40,108.32L179.90,108.49L180.40,108.44L180.90,108.98L181.40,109.03L181.90,108.61L182.40,108.53L182.90,108.82L183.40,109.29L183.90,108.26L184.40,109.13" fill="none" stroke="#000" stroke-width="1.1" stroke-linejoin="round"/><path d="M19.40,103.86L19.90,103.61L20.40,103.34L20.90,103.06L21.40,102.78L21.90,102.48L22.40,102.17L22.90,101.83L23.40,101.46L23.90,101.07L24.40,100.67L24.90,100.23L25.40,99.76L25.90,99.25L26.40,98.61L26.90,97.90L27.40,97.12L27.90,96.27L28.40,95.37L28.90,94.39L29.40,93.21L29.90,91.92L30.40,90.65L30.90,89.51L31.40,88.41L31.90,87.30L32.40,86.20L32.90,85.14L33.40,84.15L33.90,83.28L34.40,82.56L34.90,82.06L35.40,81.83L35.90,81.86L36.40,82.15L36.90,82.69L37.40,83.44L37.90,84.34L38.40,85.35L38.90,86.42L39.40,87.52L39.90,88.64L40.40,89.73L40.90,90.86L41.40,92.04L41.90,93.24L42.40,94.41L42.90,95.50L43.40,96.50L43.90,97.46L44.40,98.34L44.90,99.16L45.40,99.92L45.90,100.62L46.40,101.27L46.90,101.88L47.40,102.45L47.90,102.98L48.40,103.48L48.90,103.95L49.40,104.43L49.90,104.88L50.40,105.32L50.90,105.72L51.40,106.11L51.90,106.48L52.40,106.84L52.90,107.18L53.40,107.51L53.90,107.83L54.40,108.14L54.90,108.44L55.40,108.73L55.90,109.02L56.40,109.30L56.90,109.57L57.40,109.83L57.90,110.09L58.40,110.35L58.90,110.59L59.40,110.84L59.90,111.07L60.40,111.04L60.90,111.79L61.40,111.49L61.90,111.91L62.40,111.82L62.90,112.16L63.40,112.96L63.90,113.02L64.40,112.91L64.90,112.98L65.40,112.92L65.90,113.48L66.40,113.75L66.90,113.91L67.40,114.09L67.90,114.00L68.40,114.43L68.90,114.61L69.40,115.11L69.90,115.42L70.40,115.08L70.90,115.09L71.40,115.42L71.90,115.45L72.40,115.58L72.90,115.91L73.40,115.82L73.90,116.39L74.40,116.37L74.90,116.60L75.40,116.64L75.90,116.65L76.40,116.73L76.90,117.04L77.40,117.09L77.90,117.40L78.40,117.46L78.90,117.23L79.40,117.70L79.90,117.45L80.40,117.73L80.90,117.91L81.40,117.56L81.90,118.19L82.40,118.30L82.90,118.31L83.40,118.33L83.90,118.43L84.40,118.37L84.90,118.63L85.40,118.64L85.90,118.88L86.40,118.64L86.90,119.07L87.40,119.13L87.90,119.13L88.40,119.13L88.90,119.44L89.40,118.96L89.90,119.55L90.40,119.56L90.90,119.62L91.40,119.70L91.90,119.50L92.40,119.64L92.90,119.92L93.40,119.91L93.90,119.90L94.40,119.51L94.90,120.06L95.40,120.26L95.90,120.25L96.40,120.09L96.90,119.68L97.40,120.33L97.90,120.09L98.40,119.52L98.90,120.27L99.40,119.83L99.90,119.90L100.40,120.09L100.90,120.59L101.40,120.20L101.90,120.38L102.40,120.77L102.90,120.75L103.40,120.35L103.90,120.33L104.40,120.09L104.90,120.25L105.40,120.55L105.90,120.56L106.40,120.51L106.90,120.74L107.40,120.32L107.90,120.51L108.40,120.72L108.90,120.70L109.40,120.84L109.90,120.68L110.40,120.52L110.90,120.70L111.40,120.37L111.90,120.23L112.40,120.79L112.90,120.65L113.40,120.75L113.90,120.26L114.40,120.60L114.90,120.55L115.40,120.50L115.90,120.16L116.40,120.65L116.90,120.97L117.40,120.85L117.90,120.61L118.40,120.77L118.90,120.97L119.40,120.10L119.90,120.77L120.40,120.94L120.90,120.98L121.40,121.25L121.90,121.11L122.40,120.91L122.90,120.92L123.40,121.05L123.90,120.72L124.40,120.86L124.90,121.10L125.40,121.37L125.90,120.85L126.40,120.88L126.90,120.95L127.40,121.24L127.90,120.91L128.40,121.29L128.90,120.68L129.40,120.89L129.90,120.89L130.40,121.14L130.90,121.21L131.40,120.58L131.90,120.73L132.40,121.05L132.90,120.80L133.40,120.59L133.90,121.23L134.40,121.10L134.90,121.10L135.40,120.86L135.90,121.24L136.40,120.92L136.90,121.25L137.40,120.74L137.90,120.74L138.40,120.99L138.90,120.74L139.40,121.06L139.90,120.93L140.40,120.59L140.90,120.80L141.40,120.64L141.90,120.89L142.40,120.44L142.90,120.41L143.40,120.74L143.90,120.91L144.40,120.76L144.90,120.17L145.40,120.11L145.90,120.32L146.40,119.79L146.90,119.46L147.40,119.60L147.90,119.56L148.40,119.10L148.90,118.77L149.40,118.68L149.90,119.08L150.40,118.59L150.90,118.61L151.40,118.58L151.90,118.56L152.40,118.21L152.90,118.30L153.40,117.85L153.90,117.89L154.40,117.63L154.90,118.08L155.40,117.71L155.90,117.45L156.40,117.48L156.90,117.46L157.40,117.63L157.90,117.02L158.40,117.12L158.90,117.26L159.40,117.97L159.90,117.57L160.40,117.31L160.90,117.53L161.40,117.88L161.90,117.34L162.40,117.34L162.90,117.78L163.40,117.64L163.90,117.74L164.40,117.49L164.90,118.16L165.40,118.17L165.90,117.94L166.40,118.03L166.90,117.42L167.40,118.16L167.90,118.02L168.40,118.25L168.90,118.39L169.40,118.21L169.90,117.95L170.40,118.55L170.90,118.37L171.40,118.56L171.90,118.60L172.40,118.77L172.90,118.39L173.40,119.39L173.90,119.28L174.40,119.63L174.90,119.99L175.40,119.64L175.90,119.34L176.40,119.72L176.90,119.79L177.40,120.13L177.90,120.43L178.40,120.07L178.90,120.80L179.40,120.49L179.90,121.09L180.40,121.12L180.90,121.20L181.40,121.38L181.90,121.38L182.40,121.46L182.90,121.29L183.40,121.79L183.90,122.33L184.40,122.43L184.90,122.32L185.40,122.22L185.90,121.91L186.40,122.48L186.90,122.14L187.40,122.17L187.90,122.14L188.40,122.26L188.90,122.15L189.40,122.25L189.90,122.02L190.40,122.21L190.90,122.89L191.40,122.32L191.90,122.29L192.40,122.49L192.90,122.54L193.40,122.10L193.90,122.33L194.40,122.62L194.90,122.46" fill="none" stroke="#000" stroke-width="1.1" stroke-linejoin="round"/><path d="M19.40,149.90L19.90,149.48L20.40,149.04L20.90,148.56L21.40,148.10L21.90,147.61L22.40,147.07L22.90,146.47L23.40,145.86L23.90,145.23L24.40,144.57L24.90,143.88L25.40,143.13L25.90,142.34L26.40,141.44L26.90,140.49L27.40,139.50L27.90,138.45L28.40,137.35L28.90,136.21L29.40,135.05L29.90,133.85L30.40,132.61L30.90,131.36L31.40,130.13L31.90,128.94L32.40,127.83L32.90,126.85L33.40,126.06L33.90,125.49L34.40,125.23L34.90,125.27L35.40,125.59L35.90,126.20L36.40,127.04L36.90,128.05L37.40,129.18L37.90,130.38L38.40,131.61L38.90,132.86L39.40,134.06L39.90,135.57L40.40,137.55L40.90,139.33L41.40,140.53L41.90,141.53L42.40,142.40L42.90,143.20L43.40,144.00L43.90,144.81L44.40,145.55L44.90,146.24L45.40,146.89L45.90,147.50L46.40,148.06L46.90,148.60L47.40,149.13L47.90,149.63L48.40,150.11L48.90,150.57L49.40,151.03L49.90,151.48L50.40,151.90L50.90,152.31L51.40,152.70L51.90,153.07L52.40,153.43L52.90,153.78L53.40,154.11L53.90,154.43L54.40,154.74L54.90,155.03L55.40,155.32L55.90,155.59L56.40,155.85L56.90,156.10L57.40,156.34L57.90,156.57L58.40,156.79L58.90,156.99L59.40,157.19L59.90,157.37L60.40,157.57L60.90,158.09L61.40,157.69L61.90,158.02L62.40,158.01L62.90,158.64L63.40,157.90L63.90,158.34L64.40,158.48L64.90,158.89L65.40,158.97L65.90,159.27L66.40,158.62L66.90,159.29L67.40,159.12L67.90,159.11L68.40,159.49L68.90,159.21L69.40,158.99L69.90,159.50L70.40,159.29L70.90,159.58L71.40,159.91L71.90,159.97L72.40,160.36L72.90,159.99L73.40,159.72L73.90,159.99L74.40,160.02L74.90,160.01L75.40,160.49L75.90,160.28L76.40,160.01L76.90,160.73L77.40,160.59L77.90,160.76L78.40,160.74L78.90,160.92L79.40,160.82L79.90,161.16L80.40,161.00L80.90,161.02L81.40,161.06L81.90,160.62L82.40,160.97L82.90,160.96L83.40,161.09L83.90,160.71L84.40,161.47L84.90,161.09L85.40,160.77L85.90,160.64L86.40,161.00L86.90,161.04L87.40,160.88L87.90,161.07L88.40,160.88L88.90,161.17L89.40,160.84L89.90,161.00L90.40,161.24L90.90,161.63L91.40,160.71L91.90,160.83L92.40,160.72L92.90,161.10L93.40,160.60L93.90,160.74L94.40,160.82L94.90,160.55L95.40,160.53L95.90,160.61L96.40,160.17L96.90,160.29L97.40,160.50L97.90,160.60L98.40,160.46L98.90,160.01L99.40,160.28L99.90,160.53L100.40,160.40L100.90,160.17L101.40,159.89L101.90,160.18L102.40,159.79L102.90,159.55L103.40,159.55L103.90,160.02L104.40,159.61L104.90,159.74L105.40,159.23L105.90,159.47L106.40,158.98L106.90,158.99L107.40,159.54L107.90,159.00L108.40,158.58L108.90,158.58L109.40,158.58L109.90,158.69L110.40,158.17L110.90,157.76L111.40,158.03L111.90,158.02L112.40,157.96L112.90,158.18L113.40,157.86L113.90,157.92L114.40,157.38L114.90,157.82L115.40,158.08L115.90,157.71L116.40,157.55L116.90,157.49L117.40,157.88L117.90,157.19L118.40,157.39L118.90,157.54L119.40,157.62L119.90,157.35L120.40,157.56L120.90,157.46L121.40,157.62L121.90,157.62L122.40,157.44L122.90,157.81L123.40,158.13L123.90,157.78L124.40,158.08L124.90,158.43L125.40,158.13L125.90,158.58L126.40,158.41L126.90,159.11L127.40,159.56L127.90,159.64L128.40,159.24L128.90,159.63L129.40,159.63L129.90,159.79L130.40,160.30L130.90,159.74L131.40,160.48L131.90,160.36L132.40,160.87L132.90,160.71L133.40,160.64L133.90,161.02L134.40,161.27L134.90,161.23L135.40,161.48L135.90,161.36L136.40,161.09L136.90,161.98L137.40,162.06L137.90,162.05L138.40,162.15L138.90,162.52L139.40,162.27L139.90,162.32L140.40,162.57L140.90,163.03L141.40,162.51L141.90,163.27L142.40,162.92L142.90,162.92L143.40,163.62L143.90,163.39L144.40,163.20L144.90,163.54L145.40,163.97L145.90,164.14L146.40,163.83L146.90,164.14L147.40,164.31L147.90,164.06L148.40,164.40L148.90,164.39L149.40,164.34L149.90,164.44L150.40,164.65L150.90,164.72L151.40,164.64L151.90,164.74L152.40,165.19L152.90,165.03L153.40,165.26L153.90,165.40L154.40,165.31L154.90,165.79L155.40,165.07L155.90,165.53L156.40,165.30L156.90,165.90L157.40,165.91L157.90,165.04L158.40,165.34L158.90,165.79L159.40,165.87L159.90,165.90L160.40,165.74L160.90,165.91L161.40,166.00L161.90,165.86L162.40,166.17L162.90,165.38L163.40,166.14L163.90,165.76L164.40,166.29L164.90,166.03L165.40,165.89L165.90,166.24L166.40,165.95L166.90,165.98L167.40,165.84L167.90,166.26L168.40,166.42L168.90,166.57L169.40,166.31L169.90,166.63L170.40,166.40L170.90,166.40L171.40,166.59L171.90,166.73L172.40,166.41L172.90,166.45L173.40,166.49L173.90,166.57L174.40,166.35L174.90,166.85L175.40,166.50L175.90,166.74L176.40,166.43L176.90,166.74L177.40,166.76L177.90,166.56L178.40,167.18L178.90,166.78L179.40,167.14L179.90,166.94L180.40,166.54L180.90,166.62L181.40,166.83L181.90,166.74L182.40,166.74L182.90,166.67L183.40,166.29L183.90,166.69L184.40,166.20L184.90,166.85L185.40,166.58L185.90,166.58L186.40,166.71L186.90,166.84L187.40,166.41L187.90,166.34L188.40,166.51L188.90,166.27L189.40,166.54L189.90,167.18L190.40,166.52L190.90,166.95L191.40,166.45L191.90,166.87L192.40,166.71L192.90,166.78L193.40,166.94L193.90,167.24L194.40,166.85L194.90,166.83" fill="none" stroke="#000" stroke-width="1.1" stroke-linejoin="round"/><path d="M19.40,164.37L19.90,164.00L20.40,163.61L20.90,163.20L21.40,162.80L21.90,162.38L22.40,161.95L22.90,161.50L23.40,161.03L23.90,160.51L24.40,159.93L24.90,159.31L25.40,158.64L25.90,157.94L26.40,157.19L26.90,156.41L27.40,155.59L27.90,154.69L28.40,153.68L28.90,152.46L29.40,150.83L29.90,149.47L30.40,148.21L30.90,146.93L31.40,145.66L31.90,144.44L32.40,143.30L32.90,142.30L33.40,141.48L33.90,140.90L34.40,140.63L34.90,140.66L35.40,140.98L35.90,141.56L36.40,142.37L36.90,143.35L37.40,144.43L37.90,145.59L38.40,146.78L38.90,147.98L39.40,149.25L39.90,149.92L40.40,150.23L40.90,150.77L41.40,151.66L41.90,152.78L42.40,154.05L42.90,155.39L43.40,156.69L43.90,157.87L44.40,158.76L44.90,159.42L45.40,160.04L45.90,160.61L46.40,161.16L46.90,161.69L47.40,162.20L47.90,162.69L48.40,163.16L48.90,163.61L49.40,164.08L49.90,164.53L50.40,164.96L50.90,165.39L51.40,165.80L51.90,166.21L52.40,166.61L52.90,167.01L53.40,167.41L53.90,167.79L54.40,168.18L54.90,168.56L55.40,168.93L55.90,169.29L56.40,169.64L56.90,169.98L57.40,170.31L57.90,170.63L58.40,170.94L58.90,171.23L59.40,171.51L59.90,171.77L60.40,171.78L60.90,172.41L61.40,172.42L61.90,172.91L62.40,172.89L62.90,173.53L63.40,172.78L63.90,173.38L64.40,173.84L64.90,173.69L65.40,173.74L65.90,174.02L66.40,173.88L66.90,174.39L67.40,175.10L67.90,174.90L68.40,174.46L68.90,174.64L69.40,174.87L69.90,175.34L70.40,174.99L70.90,175.13L71.40,175.63L71.90,175.74L72.40,175.53L72.90,175.45L73.40,175.44L73.90,175.75L74.40,175.46L74.90,176.29L75.40,176.04L75.90,176.40L76.40,176.82L76.90,176.73L77.40,176.22L77.90,176.79L78.40,176.93L78.90,176.51L79.40,176.51L79.90,176.78L80.40,176.45L80.90,177.26L81.40,176.33L81.90,176.69L82.40,176.93L82.90,176.96L83.40,177.08L83.90,177.12L84.40,177.01L84.90,177.36L85.40,176.55L85.90,177.09L86.40,176.91L86.90,177.13L87.40,177.15L87.90,176.87L88.40,176.94L88.90,177.30L89.40,177.19L89.90,176.93L90.40,177.61L90.90,177.68L91.40,176.73L91.90,177.18L92.40,177.73L92.90,177.30L93.40,177.16L93.90,177.05L94.40,176.96L94.90,177.05L95.40,176.96L95.90,177.28L96.40,177.00L96.90,176.99L97.40,176.79L97.90,177.08L98.40,176.86L98.90,177.04L99.40,177.34L99.90,177.16L100.40,177.19L100.90,177.14L101.40,177.06L101.90,177.00L102.40,176.94L102.90,177.19L103.40,176.71L103.90,177.30L104.40,176.96L104.90,176.75L105.40,176.80L105.90,176.74L106.40,176.93L106.90,176.70L107.40,177.15L107.90,176.66L108.40,176.27L108.90,176.65L109.40,176.32L109.90,176.81L110.40,177.08L110.90,176.97L111.40,176.47L111.90,176.61L112.40,177.25L112.90,176.88L113.40,176.80L113.90,177.06L114.40,177.41L114.90,177.12L115.40,176.83L115.90,176.89L116.40,176.95L116.90,176.65L117.40,176.54L117.90,176.81L118.40,176.56L118.90,176.78L119.40,176.82L119.90,177.39L120.40,176.59L120.90,176.77L121.40,176.76L121.90,176.91L122.40,177.07L122.90,176.69L123.40,176.61L123.90,176.41L124.40,176.60L124.90,176.97L125.40,176.86L125.90,176.60L126.40,176.78L126.90,176.89L127.40,177.03L127.90,176.78L128.40,176.88L128.90,176.51L129.40,176.71L129.90,177.42L130.40,176.50L130.90,176.99L131.40,177.16L131.90,177.04L132.40,176.97L132.90,177.18L133.40,177.23L133.90,177.25L134.40,176.83L134.90,177.30L135.40,177.15L135.90,177.26L136.40,177.49L136.90,177.62L137.40,177.72L137.90,177.40L138.40,177.79L138.90,177.88L139.40,177.90L139.90,178.00L140.40,177.64L140.90,177.66L141.40,177.94L141.90,177.42L142.40,177.85L142.90,177.69L143.40,177.76L143.90,177.45L144.40,177.69L144.90,177.94L145.40,178.19L145.90,178.25L146.40,178.01L146.90,178.01L147.40,177.88L147.90,178.22L148.40,178.09L148.90,178.33L149.40,178.65L149.90,178.23L150.40,177.90L150.90,178.09L151.40,177.97L151.90,178.07L152.40,178.72L152.90,178.49L153.40,178.08L153.90,178.66L154.40,178.84L154.90,178.47L155.40,178.43L155.90,178.54L156.40,178.73L156.90,178.86L157.40,179.03L157.90,179.07L158.40,179.10L158.90,179.18L159.40,179.04L159.90,178.53L160.40,178.91L160.90,179.06L161.40,178.93L161.90,179.29L162.40,179.01L162.90,178.91L163.40,179.54L163.90,179.39L164.40,179.32L164.90,179.54L165.40,179.62L165.90,179.48L166.40,178.82L166.90,179.32L167.40,179.42L167.90,179.33L168.40,179.67L168.90,179.97L169.40,179.59L169.90,179.48L170.40,180.31L170.90,179.74L171.40,179.59L171.90,180.01L172.40,180.10L172.90,179.87L173.40,180.29L173.90,180.01L174.40,179.95L174.90,180.27L175.40,180.47L175.90,180.16L176.40,180.45L176.90,180.39L177.40,181.16L177.90,180.32L178.40,180.89L178.90,180.57L179.40,180.60L179.90,180.85L180.40,180.94L180.90,181.07L181.40,180.88L181.90,180.69L182.40,180.75L182.90,181.05L183.40,181.11L183.90,181.36L184.40,181.15L184.90,181.35L185.40,181.51L185.90,181.21L186.40,180.84L186.90,180.96L187.40,180.93L187.90,181.73L188.40,181.16L188.90,181.72L189.40,181.60L189.90,181.92L190.40,181.78L190.90,181.54L191.40,181.56L191.90,181.67L192.40,181.73L192.90,181.59L193.40,181.75L193.90,182.20L194.40,181.41L194.90,181.94" fill="none" stroke="#000" stroke-width="1.1" stroke-linejoin="round"/><path d="M19.40,178.35L19.90,178.09L20.40,177.80L20.90,177.49L21.40,177.18L21.90,176.85L22.40,176.50L22.90,176.14L23.40,175.76L23.90,175.34L24.40,174.87L24.90,174.25L25.40,173.47L25.90,172.53L26.40,171.42L26.90,170.28L27.40,169.14L27.90,167.92L28.40,166.63L28.90,165.31L29.40,164.03L29.90,162.83L30.40,161.68L30.90,160.51L31.40,159.35L31.90,158.23L32.40,157.17L32.90,156.22L33.40,155.44L33.90,154.86L34.40,154.56L34.90,154.53L35.40,154.76L35.90,155.26L36.40,155.98L36.90,156.85L37.40,157.84L37.90,158.90L38.40,160.00L38.90,161.11L39.40,162.22L39.90,163.30L40.40,164.38L40.90,165.43L41.40,166.41L41.90,167.32L42.40,168.21L42.90,169.06L43.40,169.88L43.90,170.66L44.40,171.37L44.90,172.02L45.40,172.63L45.90,173.21L46.40,173.76L46.90,174.30L47.40,174.82L47.90,175.34L48.40,175.85L48.90,176.35L49.40,176.85L49.90,177.35L50.40,177.84L50.90,178.32L51.40,178.79L51.90,179.26L52.40,179.72L52.90,180.17L53.40,180.61L53.90,181.04L54.40,181.46L54.90,181.86L55.40,182.24L55.90,182.61L56.40,182.97L56.90,183.31L57.40,183.63L57.90,183.94L58.40,184.23L58.90,184.51L59.40,184.78L59.90,185.04L60.40,185.07L60.90,185.58L61.40,185.98L61.90,185.98L62.40,186.40L62.90,186.02L63.40,186.90L63.90,186.67L64.40,187.17L64.90,187.25L65.40,186.73L65.90,187.37L66.40,187.78L66.90,188.28L67.40,188.13L67.90,188.27L68.40,188.01L68.90,188.86L69.40,189.10L69.90,188.79L70.40,188.86L70.90,188.64L71.40,189.39L71.90,189.96L72.40,189.58L72.90,189.83L73.40,189.75L73.90,189.47L74.40,190.15L74.90,189.60L75.40,189.94L75.90,190.15L76.40,190.38L76.90,190.34L77.40,190.41L77.90,190.19L78.40,190.13L78.90,190.53L79.40,190.40L79.90,190.31L80.40,190.37L80.90,190.61L81.40,190.32L81.90,190.49L82.40,190.46L82.90,190.96L83.40,191.05L83.90,191.48L84.40,190.64L84.90,190.87L85.40,191.29L85.90,191.04L86.40,191.03L86.90,191.57L87.40,191.08L87.90,190.89L88.40,190.87L88.90,191.30L89.40,191.31L89.90,190.91L90.40,191.02L90.90,191.42L91.40,191.45L91.90,191.16L92.40,191.49L92.90,191.49L93.40,190.91L93.90,191.29L94.40,191.49L94.90,191.26L95.40,190.88L95.90,191.35L96.40,191.62L96.90,191.84L97.40,190.91L97.90,192.13L98.40,191.20L98.90,191.74L99.40,191.82L99.90,191.77L100.40,191.57L100.90,191.25L101.40,191.71L101.90,191.39L102.40,190.94L102.90,192.29L103.40,191.77L103.90,192.06L104.40,191.39L104.90,191.99L105.40,192.03L105.90,192.03L106.40,191.65L106.90,191.36L107.40,191.63L107.90,191.13L108.40,191.27L108.90,191.72L109.40,191.46L109.90,191.68L110.40,191.70L110.90,192.22L111.40,192.07L111.90,191.74L112.40,192.06L112.90,191.58L113.40,191.70L113.90,192.02L114.40,191.49L114.90,191.74L115.40,191.48L115.90,191.85L116.40,192.24L116.90,191.65L117.40,191.91L117.90,191.64L118.40,191.58L118.90,191.57L119.40,192.26L119.90,192.49L120.40,192.03L120.90,191.74L121.40,192.11L121.90,191.86L122.40,192.16L122.90,192.04L123.40,192.05L123.90,192.15L124.40,191.86L124.90,191.92L125.40,191.61L125.90,191.94L126.40,191.71L126.90,192.04L127.40,191.85L127.90,192.13L128.40,192.23L128.90,191.77L129.40,191.94L129.90,191.92L130.40,192.35L130.90,192.61L131.40,192.40L131.90,192.11L132.40,192.58L132.90,191.84L133.40,192.61L133.90,192.08L134.40,191.55L134.90,192.92L135.40,192.66L135.90,192.01L136.40,192.31L136.90,192.22L137.40,192.30L137.90,191.90L138.40,192.09L138.90,192.37L139.40,192.30L139.90,192.53L140.40,192.23L140.90,192.77L141.40,191.98L141.90,192.19L142.40,191.61L142.90,191.74L143.40,192.34L143.90,191.73L144.40,192.05L144.90,191.85L145.40,191.55L145.90,191.67L146.40,191.58L146.90,191.53L147.40,191.78L147.90,191.70L148.40,191.33L148.90,191.19L149.40,191.43L149.90,191.28L150.40,191.50L150.90,191.85L151.40,191.33L151.90,191.05L152.40,190.95L152.90,190.72L153.40,190.64L153.90,190.55L154.40,190.64L154.90,190.57L155.40,190.80L155.90,190.46L156.40,190.45L156.90,190.14L157.40,190.81L157.90,190.48L158.40,190.76L158.90,190.49L159.40,190.64L159.90,190.19L160.40,190.42L160.90,190.92L161.40,189.96L161.90,190.58L162.40,190.75L162.90,190.47L163.40,190.62L163.90,190.81L164.40,190.40L164.90,190.76L165.40,190.52L165.90,190.66L166.40,190.78L166.90,191.00L167.40,191.17L167.90,191.36L168.40,190.98L168.90,191.95L169.40,191.84L169.90,191.82L170.40,191.64L170.90,191.80L171.40,192.05L171.90,192.10L172.40,191.65L172.90,192.35L173.40,192.99L173.90,191.85L174.40,192.65L174.90,192.57L175.40,192.52L175.90,192.97L176.40,192.39L176.90,192.80L177.40,193.20L177.90,192.84L178.40,192.85L178.90,193.05L179.40,192.97L179.90,193.54L180.40,192.97L180.90,193.48L181.40,192.99L181.90,193.54L182.40,193.40L182.90,192.81L183.40,193.53L183.90,193.31L184.40,193.52L184.90,194.08L185.40,193.44L185.90,193.51L186.40,194.20L186.90,193.90L187.40,194.31L187.90,194.05L188.40,193.78L188.90,194.03L189.40,194.41L189.90,194.37L190.40,194.17L190.90,194.22L191.40,194.22L191.90,194.13L192.40,194.81L192.90,194.35L193.40,194.09L193.90,194.29L194.40,194.63L194.90,194.64" fill="none" stroke="#000" stroke-width="1.1" stroke-linejoin="round"/><path d="M19.40,205.62L19.90,205.48L20.40,205.30L20.90,205.08L21.40,204.82L21.90,204.54L22.40,204.25L22.90,203.89L23.40,203.47L23.90,203.02L24.40,202.55L24.90,202.06L25.40,201.55L25.90,201.02L26.40,200.49L26.90,199.94L27.40,199.30L27.90,198.56L28.40,197.67L28.90,196.61L29.40,195.41L29.90,194.15L30.40,192.89L30.90,191.67L31.40,190.46L31.90,189.24L32.40,188.02L32.90,186.84L33.40,185.71L33.90,184.69L34.40,183.83L34.90,183.19L35.40,182.81L35.90,182.71L36.40,182.92L36.90,183.44L37.40,184.22L37.90,185.19L38.40,186.31L38.90,187.51L39.40,188.77L39.90,190.05L40.40,191.32L40.90,192.59L41.40,193.99L41.90,195.45L42.40,196.85L42.90,198.08L43.40,199.11L43.90,200.03L44.40,200.87L44.90,201.64L45.40,202.30L45.90,202.93L46.40,203.54L46.90,204.14L47.40,204.74L47.90,205.34L48.40,205.92L48.90,206.48L49.40,207.01L49.90,207.52L50.40,208.03L50.90,208.52L51.40,209.00L51.90,209.45L52.40,209.89L52.90,210.31L53.40,210.71L53.90,211.10L54.40,211.46L54.90,211.82L55.40,212.15L55.90,212.48L56.40,212.79L56.90,213.08L57.40,213.36L57.90,213.63L58.40,213.89L58.90,214.14L59.40,214.38L59.90,214.60L60.40,214.78L60.90,214.83L61.40,215.26L61.90,214.93L62.40,215.25L62.90,216.09L63.40,215.88L63.90,216.33L64.40,216.77L64.90,216.77L65.40,216.75L65.90,217.57L66.40,217.29L66.90,217.14L67.40,217.63L67.90,217.69L68.40,217.46L68.90,217.90L69.40,217.97L69.90,217.56L70.40,218.25L70.90,218.35L71.40,218.44L71.90,218.19L72.40,218.71L72.90,218.93L73.40,219.08L73.90,218.81L74.40,219.46L74.90,218.99L75.40,219.40L75.90,219.96L76.40,219.43L76.90,219.57L77.40,220.14L77.90,219.77L78.40,219.87L78.90,220.10L79.40,220.42L79.90,219.48L80.40,219.97L80.90,219.97L81.40,220.01L81.90,220.14L82.40,220.20L82.90,220.60L83.40,220.29L83.90,220.65L84.40,220.79L84.90,220.50L85.40,220.82L85.90,221.33L86.40,220.98L86.90,220.73L87.40,220.96L87.90,220.75L88.40,221.16L88.90,221.39L89.40,220.93L89.90,221.16L90.40,221.62L90.90,221.17L91.40,221.43L91.90,221.10L92.40,221.21L92.90,221.35L93.40,222.20L93.90,221.47L94.40,221.48L94.90,221.51L95.40,221.67L95.90,221.96L96.40,221.86L96.90,222.45L97.40,221.94L97.90,222.35L98.40,222.03L98.90,222.17L99.40,221.59L99.90,222.02L100.40,222.07L100.90,222.05L101.40,221.51L101.90,222.45L102.40,222.10L102.90,222.12L103.40,222.21L103.90,222.25L104.40,222.47L104.90,222.00L105.40,222.13L105.90,222.53L106.40,222.51L106.90,222.38L107.40,222.35L107.90,222.31L108.40,222.57L108.90,222.97L109.40,222.32L109.90,223.12L110.40,222.95L110.90,222.58L111.40,222.98L111.90,222.33L112.40,222.28L112.90,222.44L113.40,222.72L113.90,222.77L114.40,222.74L114.90,222.95L115.40,222.30L115.90,223.11L116.40,222.56L116.90,222.81L117.40,222.90L117.90,222.70L118.40,222.65L118.90,222.78L119.40,223.10L119.90,223.30L120.40,223.31L120.90,222.86L121.40,222.94L121.90,222.92L122.40,223.34L122.90,222.61L123.40,223.61L123.90,223.11L124.40,223.04L124.90,223.39L125.40,223.61L125.90,223.42L126.40,223.65L126.90,223.39L127.40,223.73L127.90,223.75L128.40,223.36L128.90,223.84L129.40,223.47L129.90,223.46L130.40,223.17L130.90,223.37L131.40,223.71L131.90,223.09L132.40,223.70L132.90,223.62L133.40,223.61L133.90,222.88L134.40,223.52L134.90,223.76L135.40,223.35L135.90,223.61L136.40,222.89L136.90,223.81L137.40,223.42L137.90,223.89L138.40,223.09L138.90,223.86L139.40,223.59L139.90,223.91L140.40,223.40L140.90,223.50L141.40,224.37L141.90,223.46L142.40,223.50L142.90,223.64L143.40,223.42L143.90,224.10L144.40,224.26L144.90,223.54L145.40,223.24L145.90,224.12L146.40,224.10L146.90,224.02L147.40,224.13L147.90,223.53L148.40,223.74L148.90,223.38L149.40,223.38L149.90,224.10L150.40,223.61L150.90,224.50L151.40,223.84L151.90,223.63L152.40,224.06L152.90,224.37L153.40,223.98L153.90,223.47L154.40,223.95L154.90,224.26L155.40,223.70L155.90,223.62L156.40,224.16L156.90,223.90L157.40,223.53L157.90,223.75L158.40,223.64L158.90,223.96L159.40,223.91L159.90,224.22L160.40,224.09L160.90,223.41L161.40,224.01L161.90,224.16L162.40,224.03L162.90,224.20L163.40,223.73L163.90,223.62L164.40,224.18L164.90,223.59L165.40,223.26L165.90,224.22L166.40,223.70L166.90,223.83L167.40,223.50L167.90,223.52L168.40,223.58L168.90,223.82L169.40,224.04L169.90,223.24L170.40,224.16L170.90,223.58L171.40,223.62L171.90,224.15L172.40,223.92L172.90,223.49L173.40,224.50L173.90,223.69L174.40,224.03L174.90,224.02L175.40,224.38L175.90,223.82L176.40,224.26L176.90,223.74L177.40,224.30L177.90,223.74L178.40,223.86L178.90,224.54L179.40,224.07L179.90,224.01L180.40,224.65L180.90,224.08L181.40,223.73L181.90,224.20L182.40,223.63L182.90,224.32L183.40,224.35L183.90,223.81L184.40,223.80L184.90,224.04L185.40,223.99L185.90,223.70L186.40,224.16L186.90,223.38L187.40,223.86L187.90,223.87L188.40,223.91L188.90,224.09L189.40,223.63L189.90,224.17L190.40,223.94L190.90,223.80L191.40,223.59L191.90,223.64L192.40,224.11L192.90,223.71L193.40,224.02L193.90,224.32L194.40,224.31L194.90,224.47L195.40,223.91" fill="none" stroke="#ff0000" stroke-width="1.8" stroke-linejoin="round"/><path d="M221.40,74.34L221.90,75.47L222.40,74.91L222.90,75.26L223.40,74.46L223.90,75.03L224.40,74.68L224.90,74.45L225.40,74.17L225.90,73.94L226.40,73.67L226.90,73.49L227.40,73.75L227.90,72.65L228.40,73.80L228.90,72.47L229.40,72.89L229.90,71.99L230.40,71.31L230.90,71.58L231.40,68.85L231.90,66.93L232.40,65.85L232.90,64.51L233.40,64.29L233.90,61.32L234.40,59.90L234.90,56.90L235.40,55.96L235.90,54.50L236.40,53.62L236.90,50.78L237.40,50.47L237.90,49.53L238.40,48.30L238.90,48.69L239.40,48.75L239.90,47.95L240.40,50.47L240.90,51.52L241.40,52.28L241.90,53.30L242.40,56.64L242.90,57.66L243.40,59.95L243.90,62.05L244.40,62.68L244.90,65.19L245.40,66.13L245.90,67.66L246.40,68.72L246.90,69.70L247.40,71.21L247.90,71.41L248.40,72.05L248.90,72.67L249.40,73.61L249.90,73.36L250.40,74.03L250.90,74.68L251.40,74.69L251.90,75.25L252.40,75.20L252.90,76.98L253.40,76.75L253.90,76.39L254.40,76.24L254.90,77.73L255.40,76.73L255.90,76.59L256.40,76.94L256.90,77.05L257.40,77.82L257.90,77.08L258.40,78.47L258.90,76.81L259.40,77.88L259.90,77.00L260.40,78.82L260.90,77.67L261.40,77.96L261.90,78.68L262.40,79.01L262.90,77.70L263.40,78.26L263.90,77.72L264.40,78.71L264.90,78.61L265.40,78.47L265.90,78.26L266.40,78.38L266.90,78.08L267.40,78.73L267.90,79.16L268.40,76.91L268.90,77.80L269.40,77.39L269.90,77.70L270.40,76.59L270.90,76.83L271.40,76.05L271.90,76.86L272.40,76.27L272.90,75.89L273.40,75.99L273.90,75.41L274.40,74.43L274.90,75.53L275.40,75.15L275.90,74.71L276.40,75.21L276.90,75.19L277.40,73.64L277.90,73.67L278.40,74.92L278.90,74.71L279.40,73.29L279.90,72.90L280.40,73.11L280.90,73.09L281.40,72.33L281.90,73.20L282.40,72.31L282.90,72.25L283.40,73.42L283.90,72.35L284.40,72.60L284.90,72.89L285.40,72.85L285.90,72.01L286.40,72.07L286.90,71.37L287.40,72.73L287.90,71.87L288.40,70.61L288.90,71.06L289.40,71.26L289.90,70.87L290.40,71.42L290.90,70.87L291.40,69.41L291.90,69.32L292.40,68.21L292.90,68.68L293.40,68.12L293.90,69.10L294.40,66.94L294.90,64.98L295.40,65.16L295.90,64.94L296.40,63.42L296.90,62.97L297.40,62.62L297.90,62.43L298.40,61.57L298.90,60.65L299.40,61.25L299.90,60.13L300.40,59.92L300.90,59.26L301.40,59.59L301.90,60.53L302.40,59.38L302.90,60.64L303.40,61.57L303.90,61.50L304.40,62.57L304.90,62.56L305.40,64.90L305.90,65.71L306.40,66.16L306.90,65.93L307.40,67.30L307.90,69.42L308.40,70.72L308.90,70.67L309.40,71.97L309.90,71.52L310.40,72.36L310.90,73.01L311.40,73.74L311.90,72.98L312.40,74.84L312.90,75.40L313.40,74.22L313.90,74.37L314.40,75.64L314.90,75.27L315.40,74.45L315.90,76.56L316.40,76.36L316.90,76.16L317.40,77.88L317.90,76.86L318.40,76.48L318.90,77.14L319.40,76.59" fill="none" stroke="#000" stroke-width="1.15" stroke-linejoin="round"/><path d="M221.73,74.27h0.9M225.61,73.37h0.9M227.84,72.30h0.9M227.79,72.00h0.9M230.60,68.56h0.9M236.50,55.14h0.9M237.06,49.57h0.9M238.18,46.04h0.9M240.40,50.88h0.9M251.16,74.31h0.9M251.43,76.32h0.9M253.25,76.67h0.9M255.24,76.63h0.9M259.75,78.39h0.9M263.57,79.08h0.9M264.05,79.67h0.9M264.33,80.34h0.9M265.61,76.24h0.9M266.19,79.26h0.9M267.83,77.33h0.9M268.06,77.37h0.9M269.82,76.25h0.9M271.09,76.51h0.9M272.62,75.21h0.9M274.32,74.67h0.9M275.09,73.51h0.9M282.01,73.61h0.9M282.44,74.22h0.9M283.61,70.23h0.9M286.16,71.28h0.9M286.66,71.70h0.9M288.19,70.34h0.9M290.76,73.06h0.9M292.22,68.19h0.9M295.75,65.08h0.9M296.60,61.41h0.9M298.49,63.07h0.9M298.24,61.57h0.9M300.58,60.59h0.9M301.71,60.05h0.9M302.35,59.48h0.9M303.12,61.52h0.9M305.75,66.07h0.9M306.05,67.75h0.9M310.96,73.24h0.9M310.80,74.02h0.9M312.47,75.75h0.9M313.86,74.47h0.9M315.26,75.64h0.9M316.35,76.87h0.9M318.82,76.70h0.9" stroke="#000" stroke-width="0.9" opacity="0.85"/><path d="M221.40,97.82L221.90,97.34L222.40,96.62L222.90,98.11L223.40,96.77L223.90,96.68L224.40,96.06L224.90,95.12L225.40,94.96L225.90,95.79L226.40,95.56L226.90,94.94L227.40,94.13L227.90,93.69L228.40,94.07L228.90,93.08L229.40,94.14L229.90,93.91L230.40,94.47L230.90,92.70L231.40,91.10L231.90,90.10L232.40,87.60L232.90,88.23L233.40,87.26L233.90,86.08L234.40,83.80L234.90,81.55L235.40,79.00L235.90,77.01L236.40,75.37L236.90,71.90L237.40,70.64L237.90,68.84L238.40,69.98L238.90,69.48L239.40,69.46L239.90,68.95L240.40,71.02L240.90,72.40L241.40,74.55L241.90,76.50L242.40,79.19L242.90,80.96L243.40,83.95L243.90,85.65L244.40,87.19L244.90,88.66L245.40,89.73L245.90,91.64L246.40,92.03L246.90,93.28L247.40,93.63L247.90,93.60L248.40,95.53L248.90,94.72L249.40,96.08L249.90,96.22L250.40,95.25L250.90,95.94L251.40,96.44L251.90,96.47L252.40,96.46L252.90,97.81L253.40,97.40L253.90,97.95L254.40,97.63L254.90,98.23L255.40,97.75L255.90,98.33L256.40,98.84L256.90,98.65L257.40,98.48L257.90,98.23L258.40,99.11L258.90,99.33L259.40,99.08L259.90,98.88L260.40,99.76L260.90,101.02L261.40,99.43L261.90,99.89L262.40,99.99L262.90,98.29L263.40,99.96L263.90,99.52L264.40,100.82L264.90,99.87L265.40,99.59L265.90,99.94L266.40,100.18L266.90,99.73L267.40,100.01L267.90,99.20L268.40,99.82L268.90,100.36L269.40,101.00L269.90,100.16L270.40,99.80L270.90,100.25L271.40,100.05L271.90,100.33L272.40,99.87L272.90,99.04L273.40,99.15L273.90,98.99L274.40,98.95L274.90,98.77L275.40,98.05L275.90,97.13L276.40,97.86L276.90,96.90L277.40,98.01L277.90,97.81L278.40,96.64L278.90,97.88L279.40,97.79L279.90,97.13L280.40,97.85L280.90,97.75L281.40,95.66L281.90,96.74L282.40,96.12L282.90,95.82L283.40,95.83L283.90,94.54L284.40,94.30L284.90,93.85L285.40,93.57L285.90,93.65L286.40,92.52L286.90,92.44L287.40,93.10L287.90,92.40L288.40,92.35L288.90,90.66L289.40,91.00L289.90,90.80L290.40,90.81L290.90,90.08L291.40,90.62L291.90,89.65L292.40,89.30L292.90,88.89L293.40,88.89L293.90,87.76L294.40,88.29L294.90,87.47L295.40,86.87L295.90,86.39L296.40,86.29L296.90,86.23L297.40,85.86L297.90,85.24L298.40,85.31L298.90,84.69L299.40,85.28L299.90,84.49L300.40,83.32L300.90,85.52L301.40,85.02L301.90,84.58L302.40,85.57L302.90,85.65L303.40,88.01L303.90,87.68L304.40,87.12L304.90,89.12L305.40,89.31L305.90,91.48L306.40,90.49L306.90,90.56L307.40,92.72L307.90,93.22L308.40,93.89L308.90,93.53L309.40,95.71L309.90,97.04L310.40,95.43L310.90,97.77L311.40,97.18L311.90,99.34L312.40,98.57L312.90,98.54L313.40,99.63L313.90,99.58L314.40,99.19L314.90,100.23L315.40,99.75L315.90,99.21L316.40,101.73L316.90,100.52L317.40,100.57L317.90,101.34L318.40,100.40L318.90,100.71L319.40,101.41" fill="none" stroke="#000" stroke-width="1.15" stroke-linejoin="round"/><path d="M223.58,95.12h0.9M227.86,93.50h0.9M229.75,93.22h0.9M231.35,93.45h0.9M231.82,92.72h0.9M233.17,88.97h0.9M235.00,77.92h0.9M237.89,70.89h0.9M240.85,71.48h0.9M241.28,72.46h0.9M244.80,88.91h0.9M245.55,92.46h0.9M246.72,93.63h0.9M247.65,92.25h0.9M247.85,93.05h0.9M249.52,93.83h0.9M252.47,97.76h0.9M253.08,96.23h0.9M255.18,98.31h0.9M258.33,100.80h0.9M258.47,99.22h0.9M267.05,98.53h0.9M267.56,99.66h0.9M272.20,98.95h0.9M274.04,98.96h0.9M274.80,99.52h0.9M276.08,100.08h0.9M275.55,98.89h0.9M276.17,99.23h0.9M283.04,93.53h0.9M285.94,94.20h0.9M287.77,91.11h0.9M289.30,90.00h0.9M292.72,86.86h0.9M293.83,88.51h0.9M295.25,85.69h0.9M302.20,87.21h0.9M303.35,85.11h0.9M304.33,88.84h0.9M310.03,96.86h0.9M312.24,97.32h0.9M312.66,99.59h0.9M315.65,102.08h0.9M315.12,98.40h0.9M318.45,100.08h0.9M320.20,102.77h0.9" stroke="#000" stroke-width="0.9" opacity="0.85"/><path d="M221.40,115.79L221.90,115.57L222.40,115.78L222.90,114.93L223.40,115.36L223.90,115.22L224.40,116.06L224.90,115.14L225.40,114.78L225.90,114.31L226.40,114.26L226.90,114.77L227.40,114.52L227.90,115.16L228.40,113.92L228.90,114.73L229.40,114.05L229.90,113.71L230.40,112.31L230.90,112.41L231.40,113.01L231.90,112.17L232.40,109.82L232.90,108.38L233.40,106.01L233.90,104.25L234.40,102.17L234.90,101.17L235.40,98.79L235.90,96.53L236.40,94.67L236.90,93.53L237.40,91.95L237.90,90.14L238.40,90.93L238.90,89.66L239.40,89.46L239.90,90.69L240.40,91.07L240.90,91.46L241.40,93.20L241.90,93.88L242.40,95.91L242.90,96.83L243.40,100.91L243.90,101.04L244.40,104.51L244.90,105.43L245.40,106.88L245.90,108.68L246.40,110.17L246.90,111.47L247.40,113.12L247.90,113.08L248.40,114.04L248.90,113.66L249.40,114.90L249.90,114.99L250.40,115.03L250.90,115.63L251.40,116.01L251.90,116.50L252.40,116.94L252.90,116.68L253.40,116.78L253.90,117.89L254.40,116.60L254.90,117.39L255.40,118.78L255.90,116.28L256.40,117.49L256.90,118.29L257.40,116.82L257.90,119.27L258.40,116.04L258.90,118.32L259.40,118.24L259.90,117.69L260.40,116.83L260.90,117.00L261.40,116.06L261.90,116.89L262.40,115.54L262.90,115.84L263.40,116.40L263.90,114.93L264.40,115.17L264.90,115.27L265.40,114.15L265.90,115.42L266.40,114.69L266.90,113.34L267.40,113.97L267.90,113.28L268.40,113.09L268.90,113.25L269.40,112.50L269.90,113.21L270.40,111.90L270.90,112.60L271.40,111.65L271.90,111.85L272.40,110.66L272.90,110.32L273.40,109.57L273.90,110.24L274.40,110.09L274.90,110.44L275.40,109.60L275.90,108.66L276.40,108.09L276.90,108.18L277.40,107.71L277.90,108.42L278.40,107.98L278.90,106.83L279.40,106.88L279.90,108.14L280.40,107.57L280.90,107.36L281.40,108.38L281.90,107.64L282.40,107.94L282.90,108.11L283.40,107.51L283.90,109.53L284.40,108.64L284.90,109.38L285.40,109.65L285.90,110.90L286.40,110.79L286.90,111.18L287.40,110.48L287.90,111.72L288.40,111.11L288.90,112.36L289.40,112.50L289.90,112.31L290.40,113.50L290.90,112.47L291.40,112.30L291.90,111.73L292.40,111.16L292.90,111.42L293.40,111.00L293.90,109.01L294.40,109.84L294.90,108.92L295.40,108.58L295.90,107.68L296.40,106.07L296.90,105.55L297.40,106.83L297.90,105.41L298.40,103.99L298.90,104.69L299.40,103.97L299.90,102.87L300.40,102.46L300.90,102.82L301.40,103.98L301.90,103.90L302.40,103.99L302.90,104.60L303.40,105.16L303.90,103.98L304.40,105.56L304.90,105.82L305.40,106.20L305.90,107.30L306.40,108.29L306.90,108.99L307.40,109.11L307.90,110.57L308.40,112.98L308.90,112.06L309.40,112.60L309.90,114.69L310.40,115.75L310.90,116.49L311.40,116.30L311.90,118.27L312.40,117.84L312.90,118.21L313.40,119.05L313.90,119.84L314.40,120.78L314.90,121.13L315.40,121.13L315.90,122.07L316.40,121.90L316.90,122.71L317.40,121.63L317.90,121.82L318.40,123.50L318.90,122.46L319.40,123.37" fill="none" stroke="#000" stroke-width="1.15" stroke-linejoin="round"/><path d="M224.41,115.51h0.9M225.93,114.87h0.9M227.10,114.26h0.9M227.20,113.78h0.9M232.48,109.91h0.9M234.42,103.14h0.9M234.49,103.39h0.9M238.25,91.21h0.9M239.31,90.57h0.9M240.00,88.99h0.9M240.11,90.11h0.9M241.40,95.58h0.9M244.35,104.33h0.9M246.14,111.29h0.9M251.23,115.66h0.9M252.30,117.31h0.9M252.27,116.74h0.9M253.19,120.04h0.9M254.01,116.68h0.9M261.12,116.73h0.9M264.82,115.89h0.9M266.30,112.65h0.9M267.13,114.83h0.9M269.20,112.42h0.9M269.44,111.64h0.9M270.21,112.01h0.9M273.90,111.05h0.9M273.83,108.05h0.9M277.47,108.00h0.9M280.19,107.18h0.9M279.97,108.93h0.9M284.02,109.64h0.9M284.88,110.16h0.9M288.80,110.81h0.9M289.48,109.62h0.9M290.60,112.50h0.9M293.48,111.62h0.9M296.93,107.10h0.9M297.96,104.01h0.9M299.21,103.89h0.9M300.35,104.60h0.9M300.67,102.57h0.9M302.38,103.61h0.9M304.83,106.19h0.9M304.72,107.11h0.9M308.98,112.17h0.9M310.76,117.13h0.9M313.78,117.29h0.9" stroke="#000" stroke-width="0.9" opacity="0.85"/><path d="M221.40,155.43L221.90,155.81L222.40,156.33L222.90,154.02L223.40,154.87L223.90,154.70L224.40,154.41L224.90,154.14L225.40,153.83L225.90,154.42L226.40,153.31L226.90,153.28L227.40,153.13L227.90,152.96L228.40,152.56L228.90,153.02L229.40,152.16L229.90,151.99L230.40,151.56L230.90,150.57L231.40,150.15L231.90,149.38L232.40,149.36L232.90,147.90L233.40,146.41L233.90,145.49L234.40,143.87L234.90,140.60L235.40,140.72L235.90,137.81L236.40,135.91L236.90,134.91L237.40,132.74L237.90,131.03L238.40,131.71L238.90,129.14L239.40,129.39L239.90,130.01L240.40,129.24L240.90,130.51L241.40,131.86L241.90,134.44L242.40,134.06L242.90,136.30L243.40,138.56L243.90,140.15L244.40,141.32L244.90,144.17L245.40,145.76L245.90,147.65L246.40,149.20L246.90,150.00L247.40,150.36L247.90,150.93L248.40,150.65L248.90,151.75L249.40,152.49L249.90,152.63L250.40,153.40L250.90,153.28L251.40,155.09L251.90,155.83L252.40,154.62L252.90,155.35L253.40,155.20L253.90,156.32L254.40,156.04L254.90,156.01L255.40,156.00L255.90,156.36L256.40,155.83L256.90,156.98L257.40,156.27L257.90,157.13L258.40,156.98L258.90,157.64L259.40,157.03L259.90,157.69L260.40,156.54L260.90,157.44L261.40,156.91L261.90,157.10L262.40,156.94L262.90,157.35L263.40,155.46L263.90,156.72L264.40,155.48L264.90,156.94L265.40,154.87L265.90,155.28L266.40,154.70L266.90,156.52L267.40,154.59L267.90,155.27L268.40,154.72L268.90,153.81L269.40,154.54L269.90,154.99L270.40,154.34L270.90,154.87L271.40,153.94L271.90,154.02L272.40,153.64L272.90,153.94L273.40,154.73L273.90,153.66L274.40,153.41L274.90,152.78L275.40,152.55L275.90,153.74L276.40,152.05L276.90,152.03L277.40,152.38L277.90,152.04L278.40,153.33L278.90,150.60L279.40,152.10L279.90,152.18L280.40,150.95L280.90,151.10L281.40,151.61L281.90,152.20L282.40,150.54L282.90,150.01L283.40,151.41L283.90,151.61L284.40,150.37L284.90,149.11L285.40,151.18L285.90,150.06L286.40,150.72L286.90,149.88L287.40,149.55L287.90,149.36L288.40,150.37L288.90,150.20L289.40,147.89L289.90,148.43L290.40,149.86L290.90,148.35L291.40,147.50L291.90,148.05L292.40,147.67L292.90,147.34L293.40,146.74L293.90,146.43L294.40,145.91L294.90,145.92L295.40,144.74L295.90,144.54L296.40,144.11L296.90,144.46L297.40,143.39L297.90,142.60L298.40,142.54L298.90,142.04L299.40,142.10L299.90,141.45L300.40,142.01L300.90,141.60L301.40,140.71L301.90,140.52L302.40,141.42L302.90,141.41L303.40,141.35L303.90,140.90L304.40,141.15L304.90,142.98L305.40,143.81L305.90,144.44L306.40,143.83L306.90,145.87L307.40,145.58L307.90,146.78L308.40,147.42L308.90,147.28L309.40,147.98L309.90,147.62L310.40,148.81L310.90,148.74L311.40,150.50L311.90,150.67L312.40,151.54L312.90,151.54L313.40,151.26L313.90,152.13L314.40,151.95L314.90,152.80L315.40,152.86L315.90,152.30L316.40,153.10L316.90,153.34L317.40,153.31L317.90,154.22L318.40,154.89L318.90,153.82L319.40,154.00" fill="none" stroke="#000" stroke-width="1.15" stroke-linejoin="round"/><path d="M221.13,155.52h0.9M221.25,155.86h0.9M222.79,153.83h0.9M227.59,153.34h0.9M231.08,152.09h0.9M234.59,138.91h0.9M239.95,128.20h0.9M241.26,130.82h0.9M242.20,132.60h0.9M243.50,139.12h0.9M244.06,141.78h0.9M247.62,152.05h0.9M258.06,156.41h0.9M260.92,157.24h0.9M261.21,155.93h0.9M261.14,156.53h0.9M265.67,157.52h0.9M268.02,156.05h0.9M269.04,154.02h0.9M271.59,154.96h0.9M273.31,151.78h0.9M276.34,151.72h0.9M277.70,154.64h0.9M281.18,154.21h0.9M283.15,150.47h0.9M287.34,151.50h0.9M293.06,148.51h0.9M296.63,143.00h0.9M298.32,145.68h0.9M302.05,138.92h0.9M303.15,139.04h0.9M304.16,142.33h0.9M304.21,143.17h0.9M305.07,144.09h0.9M309.31,146.61h0.9M313.46,150.43h0.9M313.98,154.43h0.9M316.24,152.56h0.9M317.47,153.97h0.9M318.46,150.31h0.9" stroke="#000" stroke-width="0.9" opacity="0.85"/><path d="M221.40,176.33L221.90,175.45L222.40,175.36L222.90,174.98L223.40,175.63L223.90,174.81L224.40,174.54L224.90,174.27L225.40,174.86L225.90,174.00L226.40,173.10L226.90,174.25L227.40,173.21L227.90,173.60L228.40,173.37L228.90,173.63L229.40,173.30L229.90,172.07L230.40,172.02L230.90,170.97L231.40,172.31L231.90,171.06L232.40,171.02L232.90,169.29L233.40,167.42L233.90,168.60L234.40,166.02L234.90,164.18L235.40,162.15L235.90,160.45L236.40,158.39L236.90,155.22L237.40,155.06L237.90,152.47L238.40,151.24L238.90,151.60L239.40,150.60L239.90,149.60L240.40,148.93L240.90,150.66L241.40,151.84L241.90,152.74L242.40,153.66L242.90,155.70L243.40,157.32L243.90,160.20L244.40,162.61L244.90,164.71L245.40,165.52L245.90,167.82L246.40,169.32L246.90,169.89L247.40,171.18L247.90,173.42L248.40,172.92L248.90,173.70L249.40,173.22L249.90,173.80L250.40,173.02L250.90,174.30L251.40,175.30L251.90,176.12L252.40,175.84L252.90,175.78L253.40,175.60L253.90,175.41L254.40,175.84L254.90,176.46L255.40,175.74L255.90,176.86L256.40,175.76L256.90,175.31L257.40,175.76L257.90,175.33L258.40,175.44L258.90,176.84L259.40,175.92L259.90,176.03L260.40,176.44L260.90,176.33L261.40,175.10L261.90,176.02L262.40,175.29L262.90,174.89L263.40,174.99L263.90,173.72L264.40,173.96L264.90,174.22L265.40,174.51L265.90,173.78L266.40,173.78L266.90,174.28L267.40,174.38L267.90,173.82L268.40,173.93L268.90,172.72L269.40,172.56L269.90,172.71L270.40,172.10L270.90,171.72L271.40,172.76L271.90,171.39L272.40,170.66L272.90,171.26L273.40,171.80L273.90,170.48L274.40,170.92L274.90,169.67L275.40,169.41L275.90,169.07L276.40,169.21L276.90,170.23L277.40,168.29L277.90,169.84L278.40,168.15L278.90,168.53L279.40,169.11L279.90,168.94L280.40,168.69L280.90,167.51L281.40,168.71L281.90,167.87L282.40,170.03L282.90,168.36L283.40,168.59L283.90,167.78L284.40,168.16L284.90,167.63L285.40,168.92L285.90,168.08L286.40,168.45L286.90,167.54L287.40,167.45L287.90,168.27L288.40,166.63L288.90,165.79L289.40,166.73L289.90,165.38L290.40,165.34L290.90,165.64L291.40,164.06L291.90,164.50L292.40,162.96L292.90,163.63L293.40,162.86L293.90,161.10L294.40,160.55L294.90,159.45L295.40,159.34L295.90,159.19L296.40,156.92L296.90,157.66L297.40,155.68L297.90,155.39L298.40,154.34L298.90,156.28L299.40,154.76L299.90,154.69L300.40,154.08L300.90,155.20L301.40,153.49L301.90,155.09L302.40,156.85L302.90,155.86L303.40,156.79L303.90,157.97L304.40,157.95L304.90,159.39L305.40,160.93L305.90,161.47L306.40,162.58L306.90,163.12L307.40,164.46L307.90,165.19L308.40,166.87L308.90,167.21L309.40,167.35L309.90,166.70L310.40,169.21L310.90,169.81L311.40,169.34L311.90,169.17L312.40,170.13L312.90,171.78L313.40,170.96L313.90,171.67L314.40,172.39L314.90,173.28L315.40,172.79L315.90,172.98L316.40,172.94L316.90,174.45L317.40,174.30L317.90,173.78L318.40,173.17L318.90,173.68L319.40,174.65" fill="none" stroke="#000" stroke-width="1.15" stroke-linejoin="round"/><path d="M223.10,176.02h0.9M224.76,176.10h0.9M227.21,175.69h0.9M227.59,173.60h0.9M230.22,171.13h0.9M230.26,170.79h0.9M230.46,171.75h0.9M231.34,172.00h0.9M232.91,168.37h0.9M233.96,165.54h0.9M236.17,161.76h0.9M238.48,151.81h0.9M239.96,150.19h0.9M240.24,148.71h0.9M245.05,166.11h0.9M246.18,168.50h0.9M249.17,173.60h0.9M248.79,175.03h0.9M250.30,172.94h0.9M251.62,173.90h0.9M255.44,177.66h0.9M256.58,177.07h0.9M257.56,176.87h0.9M258.62,176.81h0.9M261.30,177.66h0.9M263.58,175.03h0.9M265.37,175.87h0.9M265.65,174.76h0.9M267.02,174.96h0.9M269.31,173.52h0.9M269.95,173.19h0.9M271.90,171.96h0.9M271.84,171.30h0.9M275.04,169.41h0.9M275.70,169.18h0.9M275.47,169.89h0.9M276.23,170.75h0.9M276.34,167.32h0.9M279.12,168.06h0.9M279.03,171.36h0.9M283.13,169.47h0.9M284.23,170.28h0.9M285.02,170.71h0.9M286.09,169.29h0.9M287.43,169.72h0.9M287.92,167.84h0.9M289.79,167.42h0.9M290.59,166.29h0.9M290.43,166.38h0.9M296.13,158.10h0.9M297.28,158.24h0.9M297.86,155.11h0.9M300.23,151.93h0.9M302.66,156.12h0.9M303.12,153.98h0.9M304.66,156.70h0.9M307.01,163.61h0.9M307.62,165.52h0.9M309.80,166.64h0.9M309.57,168.67h0.9M313.43,172.51h0.9M314.26,169.91h0.9M315.53,171.43h0.9M318.92,171.91h0.9" stroke="#000" stroke-width="0.9" opacity="0.85"/><path d="M221.40,194.07L221.90,194.66L222.40,194.35L222.90,194.07L223.40,194.62L223.90,194.16L224.40,194.30L224.90,194.36L225.40,193.78L225.90,193.56L226.40,193.85L226.90,193.31L227.40,193.70L227.90,194.03L228.40,193.75L228.90,192.87L229.40,192.17L229.90,192.74L230.40,192.53L230.90,193.08L231.40,191.99L231.90,191.86L232.40,192.09L232.90,190.78L233.40,189.90L233.90,189.61L234.40,187.85L234.90,185.63L235.40,183.34L235.90,180.30L236.40,178.80L236.90,176.06L237.40,173.88L237.90,171.33L238.40,169.82L238.90,168.34L239.40,167.90L239.90,168.23L240.40,167.93L240.90,167.46L241.40,169.25L241.90,170.69L242.40,173.27L242.90,176.36L243.40,178.71L243.90,180.52L244.40,183.34L244.90,184.80L245.40,185.69L245.90,186.87L246.40,188.25L246.90,190.55L247.40,189.70L247.90,191.91L248.40,192.50L248.90,191.94L249.40,192.25L249.90,192.11L250.40,192.64L250.90,193.21L251.40,192.98L251.90,193.70L252.40,193.92L252.90,193.50L253.40,193.56L253.90,193.39L254.40,193.69L254.90,192.86L255.40,193.80L255.90,193.70L256.40,193.08L256.90,194.89L257.40,193.02L257.90,193.08L258.40,193.74L258.90,192.39L259.40,193.03L259.90,192.54L260.40,192.81L260.90,193.23L261.40,193.41L261.90,193.77L262.40,193.48L262.90,193.58L263.40,193.09L263.90,192.32L264.40,193.11L264.90,191.98L265.40,191.73L265.90,192.83L266.40,192.19L266.90,191.64L267.40,191.74L267.90,191.58L268.40,190.00L268.90,190.51L269.40,189.60L269.90,190.13L270.40,189.39L270.90,190.34L271.40,189.58L271.90,188.52L272.40,188.74L272.90,187.77L273.40,188.29L273.90,188.37L274.40,188.01L274.90,186.52L275.40,187.34L275.90,187.75L276.40,187.58L276.90,188.07L277.40,186.63L277.90,187.78L278.40,187.18L278.90,187.82L279.40,188.11L279.90,188.46L280.40,187.91L280.90,188.59L281.40,188.02L281.90,188.13L282.40,189.56L282.90,189.44L283.40,188.75L283.90,189.43L284.40,190.16L284.90,191.25L285.40,191.09L285.90,191.06L286.40,189.59L286.90,190.65L287.40,191.00L287.90,190.92L288.40,190.86L288.90,190.36L289.40,191.39L289.90,191.01L290.40,189.80L290.90,188.95L291.40,190.39L291.90,188.40L292.40,188.97L292.90,188.88L293.40,186.61L293.90,186.75L294.40,185.73L294.90,185.59L295.40,184.79L295.90,185.06L296.40,183.53L296.90,182.46L297.40,182.44L297.90,180.93L298.40,180.25L298.90,181.24L299.40,178.91L299.90,178.67L300.40,178.64L300.90,177.71L301.40,176.89L301.90,178.68L302.40,177.55L302.90,177.76L303.40,178.00L303.90,177.85L304.40,178.09L304.90,179.20L305.40,180.98L305.90,180.48L306.40,181.05L306.90,180.32L307.40,181.88L307.90,181.91L308.40,183.84L308.90,184.03L309.40,185.01L309.90,185.77L310.40,186.31L310.90,186.58L311.40,188.67L311.90,188.29L312.40,189.18L312.90,190.44L313.40,190.88L313.90,192.11L314.40,193.16L314.90,193.25L315.40,193.72L315.90,194.08L316.40,195.01L316.90,193.77L317.40,195.45L317.90,194.99L318.40,195.11L318.90,196.13L319.40,196.15" fill="none" stroke="#000" stroke-width="1.15" stroke-linejoin="round"/><path d="M228.78,195.15h0.9M229.35,195.27h0.9M232.48,191.85h0.9M233.33,190.54h0.9M239.64,168.64h0.9M240.99,165.79h0.9M242.09,170.59h0.9M242.76,176.95h0.9M244.94,184.45h0.9M248.07,192.02h0.9M249.33,191.69h0.9M250.38,193.07h0.9M252.51,194.00h0.9M256.79,192.98h0.9M257.54,191.18h0.9M258.73,192.08h0.9M259.26,193.76h0.9M261.76,192.93h0.9M264.60,193.62h0.9M265.82,194.11h0.9M267.53,192.03h0.9M269.24,188.85h0.9M269.58,190.10h0.9M270.61,189.17h0.9M270.49,189.18h0.9M275.07,187.29h0.9M275.86,188.83h0.9M277.91,186.12h0.9M282.21,188.21h0.9M282.46,190.03h0.9M284.22,190.59h0.9M286.25,190.20h0.9M290.08,189.71h0.9M290.85,189.08h0.9M296.81,180.98h0.9M302.18,176.18h0.9M304.06,177.98h0.9M305.34,176.72h0.9M312.48,189.33h0.9M316.03,195.63h0.9M316.32,194.15h0.9M317.17,193.65h0.9M318.45,198.82h0.9" stroke="#000" stroke-width="0.9" opacity="0.85"/><path d="M221.40,212.90L221.90,212.31L222.40,212.73L222.90,212.60L223.40,213.00L223.90,213.63L224.40,212.16L224.90,213.90L225.40,212.90L225.90,214.03L226.40,213.35L226.90,213.80L227.40,213.35L227.90,213.59L228.40,212.87L228.90,212.18L229.40,212.90L229.90,212.70L230.40,213.23L230.90,210.40L231.40,211.11L231.90,211.47L232.40,209.56L232.90,209.57L233.40,210.28L233.90,208.91L234.40,205.97L234.90,205.44L235.40,202.97L235.90,200.26L236.40,197.51L236.90,194.97L237.40,192.20L237.90,190.59L238.40,189.80L238.90,188.27L239.40,188.55L239.90,186.74L240.40,185.24L240.90,186.31L241.40,186.66L241.90,186.87L242.40,186.92L242.90,186.90L243.40,189.03L243.90,188.65L244.40,191.02L244.90,192.62L245.40,194.41L245.90,198.57L246.40,198.77L246.90,202.21L247.40,205.31L247.90,206.99L248.40,209.60L248.90,210.65L249.40,211.71L249.90,214.19L250.40,213.40L250.90,214.02L251.40,214.03L251.90,214.77L252.40,216.11L252.90,216.55L253.40,216.68L253.90,216.69L254.40,217.93L254.90,216.86L255.40,218.05L255.90,218.44L256.40,218.41L256.90,219.30L257.40,219.08L257.90,219.26L258.40,221.05L258.90,220.63L259.40,221.09L259.90,220.57L260.40,221.27L260.90,221.29L261.40,221.66L261.90,222.44L262.40,220.97L262.90,221.33L263.40,221.20L263.90,219.16L264.40,220.46L264.90,221.33L265.40,221.70L265.90,220.95L266.40,221.93L266.90,221.94L267.40,220.81L267.90,221.78L268.40,221.81L268.90,220.85L269.40,219.78L269.90,221.04L270.40,219.84L270.90,219.51L271.40,219.61L271.90,219.04L272.40,219.86L272.90,219.56L273.40,219.72L273.90,219.27L274.40,218.41L274.90,218.77L275.40,219.41L275.90,218.68L276.40,220.74L276.90,218.92L277.40,218.81L277.90,219.96L278.40,219.83L278.90,219.49L279.40,219.50L279.90,220.02L280.40,220.39L280.90,220.48L281.40,219.96L281.90,220.50L282.40,220.84L282.90,220.87L283.40,218.60L283.90,219.93L284.40,219.98L284.90,220.26L285.40,220.41L285.90,220.72L286.40,220.37L286.90,219.71L287.40,219.54L287.90,220.29L288.40,218.52L288.90,218.69L289.40,219.03L289.90,217.83L290.40,215.88L290.90,216.78L291.40,215.73L291.90,215.25L292.40,215.26L292.90,214.17L293.40,212.95L293.90,212.81L294.40,211.65L294.90,210.53L295.40,209.67L295.90,208.63L296.40,207.23L296.90,206.09L297.40,205.32L297.90,203.69L298.40,202.50L298.90,203.08L299.40,201.28L299.90,200.62L300.40,199.86L300.90,199.37L301.40,198.89L301.90,198.55L302.40,197.78L302.90,198.68L303.40,197.67L303.90,198.77L304.40,197.16L304.90,197.93L305.40,199.52L305.90,199.28L306.40,199.51L306.90,200.76L307.40,200.63L307.90,202.11L308.40,201.64L308.90,203.68L309.40,204.62L309.90,206.47L310.40,207.85L310.90,208.04L311.40,210.76L311.90,210.68L312.40,211.01L312.90,211.99L313.40,215.46L313.90,215.54L314.40,216.19L314.90,217.06L315.40,217.72L315.90,220.01L316.40,219.93L316.90,221.81L317.40,221.35L317.90,220.78L318.40,223.41L318.90,223.38L319.40,224.16" fill="none" stroke="#ff0000" stroke-width="1.0" stroke-linejoin="round"/><path d="M222.25,212.75h0.9M224.77,214.34h0.9M225.08,213.86h0.9M230.62,211.06h0.9M231.36,212.10h0.9M231.44,212.61h0.9M232.23,211.66h0.9M232.32,209.68h0.9M232.92,210.42h0.9M233.31,209.13h0.9M233.42,207.09h0.9M234.34,206.18h0.9M234.64,205.49h0.9M234.91,202.31h0.9M241.91,187.43h0.9M243.24,191.14h0.9M243.83,189.34h0.9M244.74,191.39h0.9M245.35,191.23h0.9M247.10,201.40h0.9M248.38,209.59h0.9M250.11,212.58h0.9M250.98,214.24h0.9M253.81,218.94h0.9M254.24,217.20h0.9M257.34,218.92h0.9M258.35,216.73h0.9M260.97,219.41h0.9M261.97,222.83h0.9M262.81,221.96h0.9M263.55,219.38h0.9M264.52,220.17h0.9M267.07,218.25h0.9M271.07,220.68h0.9M271.62,220.14h0.9M273.45,217.99h0.9M275.51,218.22h0.9M278.61,219.13h0.9M279.87,221.32h0.9M281.83,218.22h0.9M281.80,223.31h0.9M284.78,221.78h0.9M285.53,219.62h0.9M286.53,221.37h0.9M287.84,219.04h0.9M288.79,217.08h0.9M296.68,206.13h0.9M298.17,204.40h0.9M305.40,199.66h0.9M307.64,202.20h0.9M309.33,206.98h0.9M315.99,218.92h0.9M317.55,221.03h0.9M317.96,224.84h0.9M319.12,222.36h0.9M319.45,223.69h0.9" stroke="#ff0000" stroke-width="0.9" opacity="0.85"/><line x1="119.5" y1="68.2" x2="119.5" y2="76.7" stroke="#ff0000" stroke-width="1"/><path d="M117.4,76.2 L121.6,76.2 L119.5,80.2 Z" fill="#ff0000"/><line x1="112.3" y1="87.3" x2="112.3" y2="96.0" stroke="#ff0000" stroke-width="1"/><path d="M110.2,95.5 L114.39999999999999,95.5 L112.3,99.5 Z" fill="#ff0000"/><line x1="160" y1="106" x2="160" y2="112.2" stroke="#ff0000" stroke-width="1"/><path d="M157.9,111.7 L162.1,111.7 L160,115.7 Z" fill="#ff0000"/><line x1="119.7" y1="144.9" x2="119.7" y2="152.7" stroke="#ff0000" stroke-width="1"/><path d="M117.60000000000001,152.2 L121.8,152.2 L119.7,156.2 Z" fill="#ff0000"/><line x1="124.7" y1="164" x2="124.7" y2="171.6" stroke="#ff0000" stroke-width="1"/><path d="M122.60000000000001,171.1 L126.8,171.1 L124.7,175.1 Z" fill="#ff0000"/><line x1="162.5" y1="177.4" x2="162.5" y2="184.8" stroke="#ff0000" stroke-width="1"/><path d="M160.4,184.3 L164.6,184.3 L162.5,188.3 Z" fill="#ff0000"/><line x1="278.8" y1="92.2" x2="278.8" y2="99.8" stroke="#ff0000" stroke-width="1"/><path d="M276.7,99.3 L280.90000000000003,99.3 L278.8,103.3 Z" fill="#ff0000"/><line x1="278.6" y1="154" x2="278.6" y2="162.3" stroke="#ff0000" stroke-width="1"/><path d="M276.5,161.8 L280.70000000000005,161.8 L278.6,165.8 Z" fill="#ff0000"/><line x1="276.7" y1="173.6" x2="276.7" y2="181.4" stroke="#ff0000" stroke-width="1"/><path d="M274.59999999999997,180.9 L278.8,180.9 L276.7,184.9 Z" fill="#ff0000"/><rect x="185" y="37.2" width="12" height="76.5" fill="#fff"/><rect x="142" y="37.3" width="83" height="16" fill="#fff"/><rect x="161" y="131" width="62" height="18" fill="#fff"/><text x="143" y="47.8" font-size="8.5">(Fe</text><text x="153.8" y="49.7" font-size="6.8" textLength="7.3" lengthAdjust="spacingAndGlyphs">1-x</text><text x="162.2" y="47.8" font-size="8.5">Co</text><text x="172.6" y="49.7" font-size="6.8" textLength="3.4" lengthAdjust="spacingAndGlyphs">x</text><text x="177.6" y="47.8" font-size="8.5">)</text><text x="180.9" y="49.7" font-size="6.8" textLength="6.6" lengthAdjust="spacingAndGlyphs">0.9</text><text x="188.3" y="47.8" font-size="8.5">V</text><text x="195.9" y="49.7" font-size="6.8" textLength="9.6" lengthAdjust="spacingAndGlyphs">0.05</text><text x="205.4" y="47.8" font-size="8.5">C</text><text x="212.9" y="49.7" font-size="6.8" textLength="9.6" lengthAdjust="spacingAndGlyphs">0.05</text><line x1="143" y1="49.8" x2="224" y2="49.8" stroke="#444" stroke-width="0.7"/><text x="162.4" y="141.4" font-size="8.5">(Fe</text><text x="175" y="144.0" font-size="6.8" textLength="7.3" lengthAdjust="spacingAndGlyphs">1-x</text><text x="182.4" y="141.4" font-size="8.5">Co</text><text x="193" y="144.0" font-size="6.8" textLength="3.4" lengthAdjust="spacingAndGlyphs">x</text><text x="196.7" y="141.4" font-size="8.5">)</text><text x="200" y="144.0" font-size="6.8" textLength="6.6" lengthAdjust="spacingAndGlyphs">0.9</text><text x="208.2" y="141.4" font-size="8.5">V</text><text x="214.8" y="144.0" font-size="6.8" textLength="6.4" lengthAdjust="spacingAndGlyphs">0.1</text><line x1="162.4" y1="143.6" x2="221.3" y2="143.6" stroke="#444" stroke-width="0.7"/><text transform="translate(25.9,47.2) rotate(-90)" font-size="7.4" textLength="23.8" lengthAdjust="spacingAndGlyphs" style="stroke-width:0.08px">Rh(002)</text><text transform="translate(60.6,76.8) rotate(-90)" font-size="7.4" textLength="50.2" lengthAdjust="spacingAndGlyphs" style="stroke-width:0.08px">bcc-FeCo(V)(002)</text><text transform="translate(194.8,108.8) rotate(-90)" font-size="7.4" textLength="51.0" lengthAdjust="spacingAndGlyphs" style="stroke-width:0.08px">bct-FeCo(V)(002)</text><text transform="translate(247.0,46.3) rotate(-90)" font-size="7.4" textLength="30.0" lengthAdjust="spacingAndGlyphs" style="stroke-width:0.08px">MgO(220)</text><text transform="translate(266.2,71.4) rotate(-90)" font-size="7.4" textLength="51.5" lengthAdjust="spacingAndGlyphs" style="stroke-width:0.08px">bcc-FeCo(V)(200)</text><text transform="translate(301.0,52.8) rotate(-90)" font-size="7.4" textLength="24.3" lengthAdjust="spacingAndGlyphs" style="stroke-width:0.08px">Rh(220)</text><text x="61.9" y="82.7" font-size="9">x=0.7</text><text x="67" y="100.1" font-size="9">0.6</text><text x="67" y="113.5" font-size="9">0.5</text><text x="61.5" y="153.9" font-size="9">x=0.7</text><text x="66.4" y="171.7" font-size="9">0.6</text><text x="67" y="184.6" font-size="9">0.5</text><text x="67" y="212.6" font-size="9" style="fill:#ff0000;stroke:#ff0000">B.C.</text><text x="19.40" y="250.6" font-size="9" text-anchor="middle">46</text><text x="54.64" y="250.6" font-size="9" text-anchor="middle">50</text><text x="89.88" y="250.6" font-size="9" text-anchor="middle">54</text><text x="125.12" y="250.6" font-size="9" text-anchor="middle">58</text><text x="160.36" y="250.6" font-size="9" text-anchor="middle">62</text><text x="195.60" y="250.6" font-size="9" text-anchor="middle">66</text><text x="221.40" y="250.6" font-size="9" text-anchor="middle">60</text><text x="237.77" y="250.6" font-size="9" text-anchor="middle">62</text><text x="254.13" y="250.6" font-size="9" text-anchor="middle">64</text><text x="270.50" y="250.6" font-size="9" text-anchor="middle">66</text><text x="286.87" y="250.6" font-size="9" text-anchor="middle">68</text><text x="303.23" y="250.6" font-size="9" text-anchor="middle">70</text><text x="319.60" y="250.6" font-size="9" text-anchor="middle">72</text><text x="89.8" y="262.8" font-size="10">2</text><text x="95.3" y="262.8" font-size="10" font-style="italic">θ</text><text x="102.39999999999999" y="262.8" font-size="10.5">(deg)</text><text x="252.7" y="262.8" font-size="10">2</text><text x="258.2" y="262.8" font-size="10" font-style="italic">θ</text><text x="265.3" y="262.8" font-size="10.5">(deg)</text><text transform="translate(8.8,146.9) rotate(-90)" font-size="10.35" text-anchor="middle">Log intensity (a.u.)</text></svg></body></html>
